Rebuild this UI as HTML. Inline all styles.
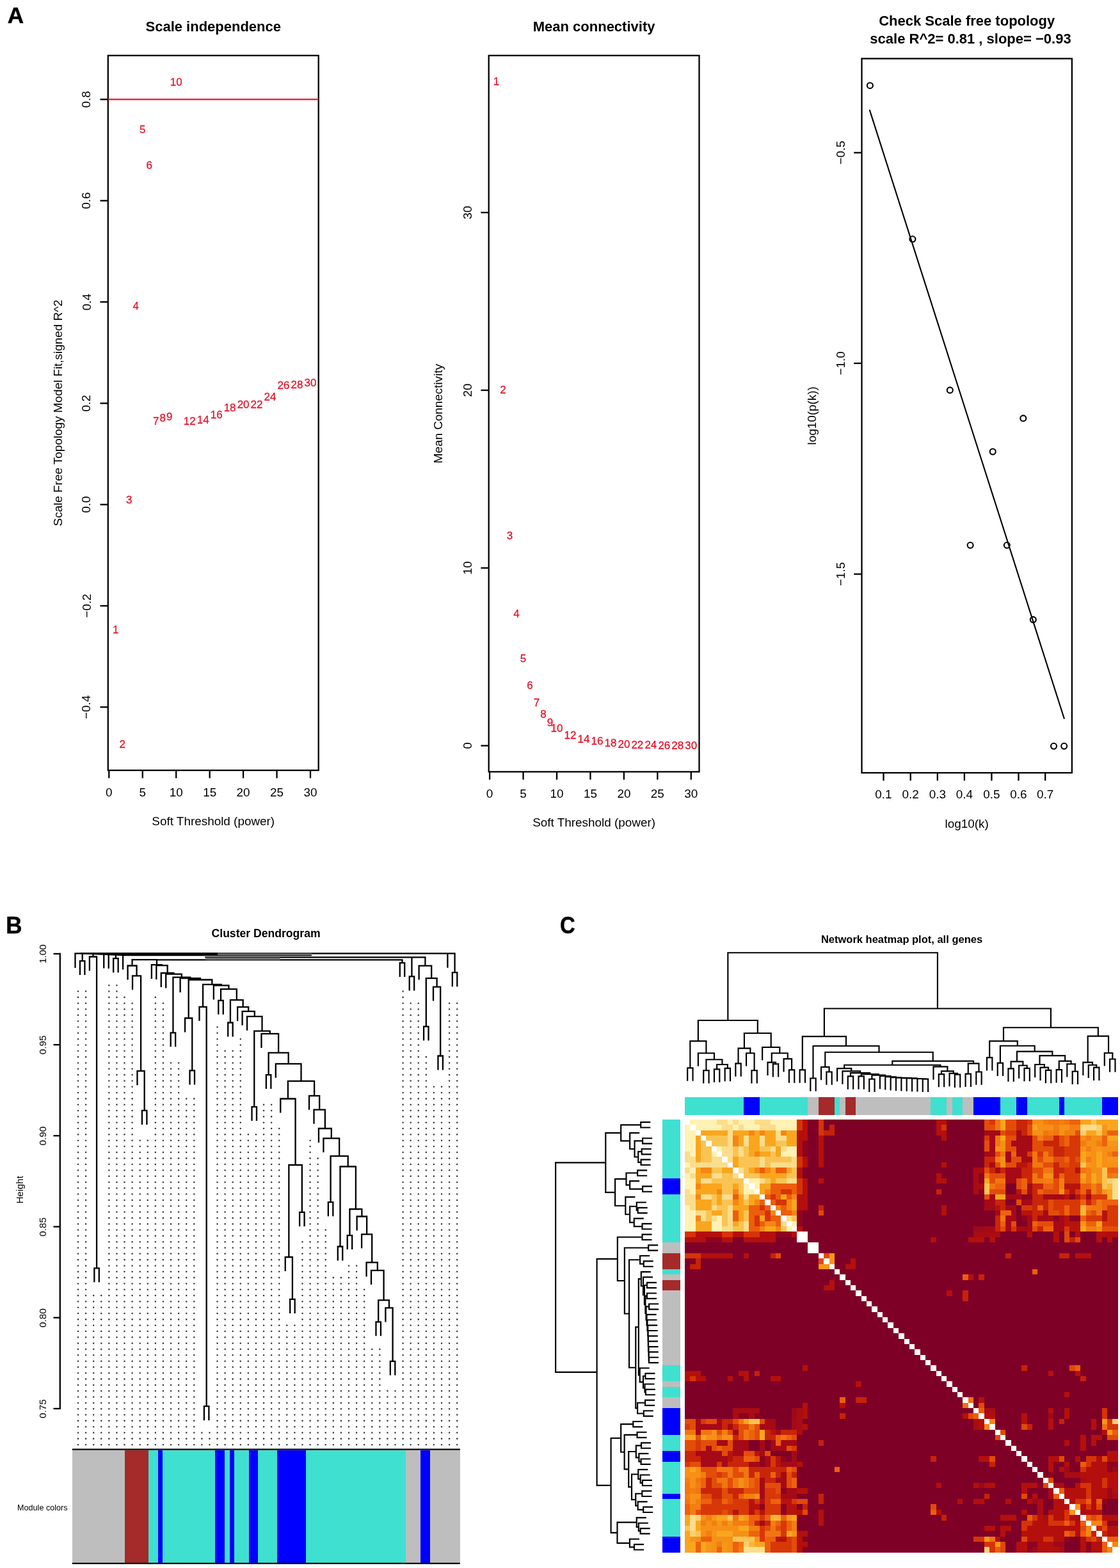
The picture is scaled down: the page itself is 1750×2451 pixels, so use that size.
<!DOCTYPE html>
<html lang="en"><head><meta charset="utf-8"><title>WGCNA figure</title>
<style>
html,body{margin:0;padding:0;background:#fff;}
body{width:1750px;height:2451px;overflow:hidden;}
svg{display:block;font-family:'Liberation Sans', sans-serif;}
</style></head><body>
<svg width="1750" height="2451" viewBox="0 0 1750 2451">
<rect x="0" y="0" width="1750" height="2451" fill="#fff"/>
<g id="panelA">
<text id="lblA" x="11.70" y="36.20" font-size="35.2" font-weight="bold" stroke="#000" stroke-width="0.5">A</text>
<rect x="168.80" y="86.80" width="328.90" height="1117.30" fill="none" stroke="#000" stroke-width="2.3"/>
<text x="333.25" y="49.20" font-size="22" text-anchor="middle" font-weight="bold" fill="#000">Scale independence</text>
<line x1="170.30" y1="1204.10" x2="170.30" y2="1216.40" stroke="#000" stroke-width="2.3" stroke-linecap="butt"/>
<text x="170.30" y="1244.60" font-size="18.9" text-anchor="middle" font-weight="normal" fill="#000">0</text>
<line x1="222.75" y1="1204.10" x2="222.75" y2="1216.40" stroke="#000" stroke-width="2.3" stroke-linecap="butt"/>
<text x="222.75" y="1244.60" font-size="18.9" text-anchor="middle" font-weight="normal" fill="#000">5</text>
<line x1="275.20" y1="1204.10" x2="275.20" y2="1216.40" stroke="#000" stroke-width="2.3" stroke-linecap="butt"/>
<text x="275.20" y="1244.60" font-size="18.9" text-anchor="middle" font-weight="normal" fill="#000">10</text>
<line x1="327.65" y1="1204.10" x2="327.65" y2="1216.40" stroke="#000" stroke-width="2.3" stroke-linecap="butt"/>
<text x="327.65" y="1244.60" font-size="18.9" text-anchor="middle" font-weight="normal" fill="#000">15</text>
<line x1="380.10" y1="1204.10" x2="380.10" y2="1216.40" stroke="#000" stroke-width="2.3" stroke-linecap="butt"/>
<text x="380.10" y="1244.60" font-size="18.9" text-anchor="middle" font-weight="normal" fill="#000">20</text>
<line x1="432.55" y1="1204.10" x2="432.55" y2="1216.40" stroke="#000" stroke-width="2.3" stroke-linecap="butt"/>
<text x="432.55" y="1244.60" font-size="18.9" text-anchor="middle" font-weight="normal" fill="#000">25</text>
<line x1="485.00" y1="1204.10" x2="485.00" y2="1216.40" stroke="#000" stroke-width="2.3" stroke-linecap="butt"/>
<text x="485.00" y="1244.60" font-size="18.9" text-anchor="middle" font-weight="normal" fill="#000">30</text>
<text x="333.25" y="1290.30" font-size="18.9" text-anchor="middle" font-weight="normal" fill="#000">Soft Threshold (power)</text>
<line x1="156.50" y1="155.40" x2="168.80" y2="155.40" stroke="#000" stroke-width="2.3" stroke-linecap="butt"/>
<text x="141.50" y="155.40" font-size="18.9" text-anchor="middle" font-weight="normal" fill="#000" transform="rotate(-90 141.50 155.40)">0.8</text>
<line x1="156.50" y1="313.70" x2="168.80" y2="313.70" stroke="#000" stroke-width="2.3" stroke-linecap="butt"/>
<text x="141.50" y="313.70" font-size="18.9" text-anchor="middle" font-weight="normal" fill="#000" transform="rotate(-90 141.50 313.70)">0.6</text>
<line x1="156.50" y1="472.00" x2="168.80" y2="472.00" stroke="#000" stroke-width="2.3" stroke-linecap="butt"/>
<text x="141.50" y="472.00" font-size="18.9" text-anchor="middle" font-weight="normal" fill="#000" transform="rotate(-90 141.50 472.00)">0.4</text>
<line x1="156.50" y1="630.40" x2="168.80" y2="630.40" stroke="#000" stroke-width="2.3" stroke-linecap="butt"/>
<text x="141.50" y="630.40" font-size="18.9" text-anchor="middle" font-weight="normal" fill="#000" transform="rotate(-90 141.50 630.40)">0.2</text>
<line x1="156.50" y1="788.70" x2="168.80" y2="788.70" stroke="#000" stroke-width="2.3" stroke-linecap="butt"/>
<text x="141.50" y="788.70" font-size="18.9" text-anchor="middle" font-weight="normal" fill="#000" transform="rotate(-90 141.50 788.70)">0.0</text>
<line x1="156.50" y1="947.00" x2="168.80" y2="947.00" stroke="#000" stroke-width="2.3" stroke-linecap="butt"/>
<text x="141.50" y="947.00" font-size="18.9" text-anchor="middle" font-weight="normal" fill="#000" transform="rotate(-90 141.50 947.00)">−0.2</text>
<line x1="156.50" y1="1105.30" x2="168.80" y2="1105.30" stroke="#000" stroke-width="2.3" stroke-linecap="butt"/>
<text x="141.50" y="1105.30" font-size="18.9" text-anchor="middle" font-weight="normal" fill="#000" transform="rotate(-90 141.50 1105.30)">−0.4</text>
<text x="96.80" y="645.45" font-size="18.9" text-anchor="middle" font-weight="normal" fill="#000" transform="rotate(-90 96.80 645.45)">Scale Free Topology Model Fit,signed R^2</text>
<line x1="168.80" y1="155.40" x2="497.70" y2="155.40" stroke="#e5152b" stroke-width="2.3" stroke-linecap="butt"/>
<text x="180.79" y="989.91" font-size="17" text-anchor="middle" font-weight="normal" fill="#e5152b" stroke="#e5152b" stroke-width="0.3">1</text>
<text x="191.28" y="1169.22" font-size="17" text-anchor="middle" font-weight="normal" fill="#e5152b" stroke="#e5152b" stroke-width="0.3">2</text>
<text x="201.77" y="787.28" font-size="17" text-anchor="middle" font-weight="normal" fill="#e5152b" stroke="#e5152b" stroke-width="0.3">3</text>
<text x="212.26" y="484.49" font-size="17" text-anchor="middle" font-weight="normal" fill="#e5152b" stroke="#e5152b" stroke-width="0.3">4</text>
<text x="222.75" y="207.62" font-size="17" text-anchor="middle" font-weight="normal" fill="#e5152b" stroke="#e5152b" stroke-width="0.3">5</text>
<text x="233.24" y="264.15" font-size="17" text-anchor="middle" font-weight="normal" fill="#e5152b" stroke="#e5152b" stroke-width="0.3">6</text>
<text x="243.73" y="663.60" font-size="17" text-anchor="middle" font-weight="normal" fill="#e5152b" stroke="#e5152b" stroke-width="0.3">7</text>
<text x="254.22" y="658.80" font-size="17" text-anchor="middle" font-weight="normal" fill="#e5152b" stroke="#e5152b" stroke-width="0.3">8</text>
<text x="264.71" y="656.50" font-size="17" text-anchor="middle" font-weight="normal" fill="#e5152b" stroke="#e5152b" stroke-width="0.3">9</text>
<text x="275.20" y="134.07" font-size="17" text-anchor="middle" font-weight="normal" fill="#e5152b" stroke="#e5152b" stroke-width="0.3">10</text>
<text x="296.18" y="664.00" font-size="17" text-anchor="middle" font-weight="normal" fill="#e5152b" stroke="#e5152b" stroke-width="0.3">12</text>
<text x="317.16" y="661.60" font-size="17" text-anchor="middle" font-weight="normal" fill="#e5152b" stroke="#e5152b" stroke-width="0.3">14</text>
<text x="338.14" y="654.20" font-size="17" text-anchor="middle" font-weight="normal" fill="#e5152b" stroke="#e5152b" stroke-width="0.3">16</text>
<text x="359.12" y="643.49" font-size="17" text-anchor="middle" font-weight="normal" fill="#e5152b" stroke="#e5152b" stroke-width="0.3">18</text>
<text x="380.10" y="637.59" font-size="17" text-anchor="middle" font-weight="normal" fill="#e5152b" stroke="#e5152b" stroke-width="0.3">20</text>
<text x="401.08" y="637.89" font-size="17" text-anchor="middle" font-weight="normal" fill="#e5152b" stroke="#e5152b" stroke-width="0.3">22</text>
<text x="422.06" y="626.08" font-size="17" text-anchor="middle" font-weight="normal" fill="#e5152b" stroke="#e5152b" stroke-width="0.3">24</text>
<text x="443.04" y="607.97" font-size="17" text-anchor="middle" font-weight="normal" fill="#e5152b" stroke="#e5152b" stroke-width="0.3">26</text>
<text x="464.02" y="606.87" font-size="17" text-anchor="middle" font-weight="normal" fill="#e5152b" stroke="#e5152b" stroke-width="0.3">28</text>
<text x="485.00" y="603.97" font-size="17" text-anchor="middle" font-weight="normal" fill="#e5152b" stroke="#e5152b" stroke-width="0.3">30</text>
<rect x="763.70" y="86.80" width="328.80" height="1119.60" fill="none" stroke="#000" stroke-width="2.3"/>
<text x="928.10" y="49.20" font-size="22" text-anchor="middle" font-weight="bold" fill="#000">Mean connectivity</text>
<line x1="765.10" y1="1206.40" x2="765.10" y2="1218.70" stroke="#000" stroke-width="2.3" stroke-linecap="butt"/>
<text x="765.10" y="1247.40" font-size="18.9" text-anchor="middle" font-weight="normal" fill="#000">0</text>
<line x1="817.55" y1="1206.40" x2="817.55" y2="1218.70" stroke="#000" stroke-width="2.3" stroke-linecap="butt"/>
<text x="817.55" y="1247.40" font-size="18.9" text-anchor="middle" font-weight="normal" fill="#000">5</text>
<line x1="870.00" y1="1206.40" x2="870.00" y2="1218.70" stroke="#000" stroke-width="2.3" stroke-linecap="butt"/>
<text x="870.00" y="1247.40" font-size="18.9" text-anchor="middle" font-weight="normal" fill="#000">10</text>
<line x1="922.45" y1="1206.40" x2="922.45" y2="1218.70" stroke="#000" stroke-width="2.3" stroke-linecap="butt"/>
<text x="922.45" y="1247.40" font-size="18.9" text-anchor="middle" font-weight="normal" fill="#000">15</text>
<line x1="974.90" y1="1206.40" x2="974.90" y2="1218.70" stroke="#000" stroke-width="2.3" stroke-linecap="butt"/>
<text x="974.90" y="1247.40" font-size="18.9" text-anchor="middle" font-weight="normal" fill="#000">20</text>
<line x1="1027.35" y1="1206.40" x2="1027.35" y2="1218.70" stroke="#000" stroke-width="2.3" stroke-linecap="butt"/>
<text x="1027.35" y="1247.40" font-size="18.9" text-anchor="middle" font-weight="normal" fill="#000">25</text>
<line x1="1079.80" y1="1206.40" x2="1079.80" y2="1218.70" stroke="#000" stroke-width="2.3" stroke-linecap="butt"/>
<text x="1079.80" y="1247.40" font-size="18.9" text-anchor="middle" font-weight="normal" fill="#000">30</text>
<text x="928.10" y="1292.00" font-size="18.9" text-anchor="middle" font-weight="normal" fill="#000">Soft Threshold (power)</text>
<line x1="751.40" y1="332.20" x2="763.70" y2="332.20" stroke="#000" stroke-width="2.3" stroke-linecap="butt"/>
<text x="736.70" y="332.20" font-size="18.9" text-anchor="middle" font-weight="normal" fill="#000" transform="rotate(-90 736.70 332.20)">30</text>
<line x1="751.40" y1="610.00" x2="763.70" y2="610.00" stroke="#000" stroke-width="2.3" stroke-linecap="butt"/>
<text x="736.70" y="610.00" font-size="18.9" text-anchor="middle" font-weight="normal" fill="#000" transform="rotate(-90 736.70 610.00)">20</text>
<line x1="751.40" y1="887.80" x2="763.70" y2="887.80" stroke="#000" stroke-width="2.3" stroke-linecap="butt"/>
<text x="736.70" y="887.80" font-size="18.9" text-anchor="middle" font-weight="normal" fill="#000" transform="rotate(-90 736.70 887.80)">10</text>
<line x1="751.40" y1="1165.60" x2="763.70" y2="1165.60" stroke="#000" stroke-width="2.3" stroke-linecap="butt"/>
<text x="736.70" y="1165.60" font-size="18.9" text-anchor="middle" font-weight="normal" fill="#000" transform="rotate(-90 736.70 1165.60)">0</text>
<text x="691.30" y="646.60" font-size="18.9" text-anchor="middle" font-weight="normal" fill="#000" transform="rotate(-90 691.30 646.60)">Mean Connectivity</text>
<text x="775.59" y="133.44" font-size="17" text-anchor="middle" font-weight="normal" fill="#e5152b" stroke="#e5152b" stroke-width="0.3">1</text>
<text x="786.08" y="614.55" font-size="17" text-anchor="middle" font-weight="normal" fill="#e5152b" stroke="#e5152b" stroke-width="0.3">2</text>
<text x="796.57" y="843.24" font-size="17" text-anchor="middle" font-weight="normal" fill="#e5152b" stroke="#e5152b" stroke-width="0.3">3</text>
<text x="807.06" y="965.35" font-size="17" text-anchor="middle" font-weight="normal" fill="#e5152b" stroke="#e5152b" stroke-width="0.3">4</text>
<text x="817.55" y="1034.57" font-size="17" text-anchor="middle" font-weight="normal" fill="#e5152b" stroke="#e5152b" stroke-width="0.3">5</text>
<text x="828.04" y="1077.14" font-size="17" text-anchor="middle" font-weight="normal" fill="#e5152b" stroke="#e5152b" stroke-width="0.3">6</text>
<text x="838.53" y="1104.48" font-size="17" text-anchor="middle" font-weight="normal" fill="#e5152b" stroke="#e5152b" stroke-width="0.3">7</text>
<text x="849.02" y="1122.31" font-size="17" text-anchor="middle" font-weight="normal" fill="#e5152b" stroke="#e5152b" stroke-width="0.3">8</text>
<text x="859.51" y="1134.83" font-size="17" text-anchor="middle" font-weight="normal" fill="#e5152b" stroke="#e5152b" stroke-width="0.3">9</text>
<text x="870.00" y="1143.75" font-size="17" text-anchor="middle" font-weight="normal" fill="#e5152b" stroke="#e5152b" stroke-width="0.3">10</text>
<text x="890.98" y="1154.87" font-size="17" text-anchor="middle" font-weight="normal" fill="#e5152b" stroke="#e5152b" stroke-width="0.3">12</text>
<text x="911.96" y="1161.48" font-size="17" text-anchor="middle" font-weight="normal" fill="#e5152b" stroke="#e5152b" stroke-width="0.3">14</text>
<text x="932.94" y="1164.48" font-size="17" text-anchor="middle" font-weight="normal" fill="#e5152b" stroke="#e5152b" stroke-width="0.3">16</text>
<text x="953.92" y="1167.39" font-size="17" text-anchor="middle" font-weight="normal" fill="#e5152b" stroke="#e5152b" stroke-width="0.3">18</text>
<text x="974.90" y="1169.29" font-size="17" text-anchor="middle" font-weight="normal" fill="#e5152b" stroke="#e5152b" stroke-width="0.3">20</text>
<text x="995.88" y="1170.39" font-size="17" text-anchor="middle" font-weight="normal" fill="#e5152b" stroke="#e5152b" stroke-width="0.3">22</text>
<text x="1016.86" y="1170.39" font-size="17" text-anchor="middle" font-weight="normal" fill="#e5152b" stroke="#e5152b" stroke-width="0.3">24</text>
<text x="1037.84" y="1170.60" font-size="17" text-anchor="middle" font-weight="normal" fill="#e5152b" stroke="#e5152b" stroke-width="0.3">26</text>
<text x="1058.82" y="1170.80" font-size="17" text-anchor="middle" font-weight="normal" fill="#e5152b" stroke="#e5152b" stroke-width="0.3">28</text>
<text x="1079.80" y="1170.90" font-size="17" text-anchor="middle" font-weight="normal" fill="#e5152b" stroke="#e5152b" stroke-width="0.3">30</text>
<rect x="1346.50" y="91.60" width="328.40" height="1116.40" fill="none" stroke="#000" stroke-width="2.3"/>
<text x="1510.70" y="39.90" font-size="22" text-anchor="middle" font-weight="bold" fill="#000">Check Scale free topology</text>
<text x="1516.50" y="67.60" font-size="22" text-anchor="middle" font-weight="bold" fill="#000">scale R^2= 0.81 , slope= −0.93</text>
<line x1="1380.50" y1="1208.00" x2="1380.50" y2="1220.30" stroke="#000" stroke-width="2.3" stroke-linecap="butt"/>
<text x="1380.50" y="1248.30" font-size="18.9" text-anchor="middle" font-weight="normal" fill="#000">0.1</text>
<line x1="1422.70" y1="1208.00" x2="1422.70" y2="1220.30" stroke="#000" stroke-width="2.3" stroke-linecap="butt"/>
<text x="1422.70" y="1248.30" font-size="18.9" text-anchor="middle" font-weight="normal" fill="#000">0.2</text>
<line x1="1464.80" y1="1208.00" x2="1464.80" y2="1220.30" stroke="#000" stroke-width="2.3" stroke-linecap="butt"/>
<text x="1464.80" y="1248.30" font-size="18.9" text-anchor="middle" font-weight="normal" fill="#000">0.3</text>
<line x1="1506.90" y1="1208.00" x2="1506.90" y2="1220.30" stroke="#000" stroke-width="2.3" stroke-linecap="butt"/>
<text x="1506.90" y="1248.30" font-size="18.9" text-anchor="middle" font-weight="normal" fill="#000">0.4</text>
<line x1="1549.40" y1="1208.00" x2="1549.40" y2="1220.30" stroke="#000" stroke-width="2.3" stroke-linecap="butt"/>
<text x="1549.40" y="1248.30" font-size="18.9" text-anchor="middle" font-weight="normal" fill="#000">0.5</text>
<line x1="1591.50" y1="1208.00" x2="1591.50" y2="1220.30" stroke="#000" stroke-width="2.3" stroke-linecap="butt"/>
<text x="1591.50" y="1248.30" font-size="18.9" text-anchor="middle" font-weight="normal" fill="#000">0.6</text>
<line x1="1633.20" y1="1208.00" x2="1633.20" y2="1220.30" stroke="#000" stroke-width="2.3" stroke-linecap="butt"/>
<text x="1633.20" y="1248.30" font-size="18.9" text-anchor="middle" font-weight="normal" fill="#000">0.7</text>
<text x="1510.70" y="1293.50" font-size="18.9" text-anchor="middle" font-weight="normal" fill="#000">log10(k)</text>
<line x1="1334.20" y1="238.70" x2="1346.50" y2="238.70" stroke="#000" stroke-width="2.3" stroke-linecap="butt"/>
<text x="1320.00" y="238.70" font-size="18.9" text-anchor="middle" font-weight="normal" fill="#000" transform="rotate(-90 1320.00 238.70)">−0.5</text>
<line x1="1334.20" y1="567.90" x2="1346.50" y2="567.90" stroke="#000" stroke-width="2.3" stroke-linecap="butt"/>
<text x="1320.00" y="567.90" font-size="18.9" text-anchor="middle" font-weight="normal" fill="#000" transform="rotate(-90 1320.00 567.90)">−1.0</text>
<line x1="1334.20" y1="897.40" x2="1346.50" y2="897.40" stroke="#000" stroke-width="2.3" stroke-linecap="butt"/>
<text x="1320.00" y="897.40" font-size="18.9" text-anchor="middle" font-weight="normal" fill="#000" transform="rotate(-90 1320.00 897.40)">−1.5</text>
<text x="1274.90" y="649.80" font-size="18.9" text-anchor="middle" font-weight="normal" fill="#000" transform="rotate(-90 1274.90 649.80)">log10(p(k))</text>
<line x1="1358.70" y1="171.60" x2="1663.00" y2="1123.80" stroke="#000" stroke-width="2.1" stroke-linecap="butt"/>
<circle cx="1359.4" cy="133.7" r="4.5" fill="none" stroke="#000" stroke-width="2.1"/>
<circle cx="1425.9" cy="373.8" r="4.5" fill="none" stroke="#000" stroke-width="2.1"/>
<circle cx="1484.3" cy="609.9" r="4.5" fill="none" stroke="#000" stroke-width="2.1"/>
<circle cx="1598.8" cy="653.9" r="4.5" fill="none" stroke="#000" stroke-width="2.1"/>
<circle cx="1551.2" cy="706.0" r="4.5" fill="none" stroke="#000" stroke-width="2.1"/>
<circle cx="1516.1" cy="852.3" r="4.5" fill="none" stroke="#000" stroke-width="2.1"/>
<circle cx="1573.3" cy="852.3" r="4.5" fill="none" stroke="#000" stroke-width="2.1"/>
<circle cx="1614.3" cy="968.6" r="4.5" fill="none" stroke="#000" stroke-width="2.1"/>
<circle cx="1646.5" cy="1166.3" r="4.5" fill="none" stroke="#000" stroke-width="2.1"/>
<circle cx="1662.7" cy="1166.3" r="4.5" fill="none" stroke="#000" stroke-width="2.1"/>
</g>
<g id="panelB">
<text id="lblB" transform="translate(9.30 1459.20) scale(0.95 1)" font-size="36.8" font-weight="bold" stroke="#000" stroke-width="0.5">B</text>
<text x="415.60" y="1465.10" font-size="17.6" text-anchor="middle" font-weight="bold" fill="#000">Cluster Dendrogram</text>
<line x1="93.80" y1="1489.75" x2="93.80" y2="2203.05" stroke="#000" stroke-width="2.3" stroke-linecap="butt"/>
<line x1="83.50" y1="1490.90" x2="93.80" y2="1490.90" stroke="#000" stroke-width="2.3" stroke-linecap="butt"/>
<text x="72.40" y="1491.20" font-size="15.3" text-anchor="middle" font-weight="normal" fill="#000" transform="rotate(-90 72.40 1491.20)">1.00</text>
<line x1="83.50" y1="1633.10" x2="93.80" y2="1633.10" stroke="#000" stroke-width="2.3" stroke-linecap="butt"/>
<text x="72.40" y="1633.40" font-size="15.3" text-anchor="middle" font-weight="normal" fill="#000" transform="rotate(-90 72.40 1633.40)">0.95</text>
<line x1="83.50" y1="1775.30" x2="93.80" y2="1775.30" stroke="#000" stroke-width="2.3" stroke-linecap="butt"/>
<text x="72.40" y="1775.60" font-size="15.3" text-anchor="middle" font-weight="normal" fill="#000" transform="rotate(-90 72.40 1775.60)">0.90</text>
<line x1="83.50" y1="1917.50" x2="93.80" y2="1917.50" stroke="#000" stroke-width="2.3" stroke-linecap="butt"/>
<text x="72.40" y="1917.80" font-size="15.3" text-anchor="middle" font-weight="normal" fill="#000" transform="rotate(-90 72.40 1917.80)">0.85</text>
<line x1="83.50" y1="2059.70" x2="93.80" y2="2059.70" stroke="#000" stroke-width="2.3" stroke-linecap="butt"/>
<text x="72.40" y="2060.00" font-size="15.3" text-anchor="middle" font-weight="normal" fill="#000" transform="rotate(-90 72.40 2060.00)">0.80</text>
<line x1="83.50" y1="2201.90" x2="93.80" y2="2201.90" stroke="#000" stroke-width="2.3" stroke-linecap="butt"/>
<text x="72.40" y="2202.20" font-size="15.3" text-anchor="middle" font-weight="normal" fill="#000" transform="rotate(-90 72.40 2202.20)">0.75</text>
<text x="35.90" y="1859.70" font-size="14.9" text-anchor="middle" font-weight="normal" fill="#000" transform="rotate(-90 35.90 1859.70)">Height</text>
<text x="27.10" y="2360.80" font-size="12.6" text-anchor="start" font-weight="normal" fill="#000">Module colors</text>
<g shape-rendering="crispEdges">
<rect x="112.80" y="2266.60" width="82.27" height="176.60" fill="#bebebe" stroke="none" stroke-width="0"/>
<rect x="194.77" y="2266.60" width="37.56" height="176.60" fill="#a52a2a" stroke="none" stroke-width="0"/>
<rect x="232.03" y="2266.60" width="15.20" height="176.60" fill="#40e0d0" stroke="none" stroke-width="0"/>
<rect x="246.94" y="2266.60" width="7.75" height="176.60" fill="#0000ff" stroke="none" stroke-width="0"/>
<rect x="254.39" y="2266.60" width="82.27" height="176.60" fill="#40e0d0" stroke="none" stroke-width="0"/>
<rect x="336.36" y="2266.60" width="15.20" height="176.60" fill="#0000ff" stroke="none" stroke-width="0"/>
<rect x="351.26" y="2266.60" width="7.75" height="176.60" fill="#40e0d0" stroke="none" stroke-width="0"/>
<rect x="358.72" y="2266.60" width="7.75" height="176.60" fill="#0000ff" stroke="none" stroke-width="0"/>
<rect x="366.17" y="2266.60" width="22.66" height="176.60" fill="#40e0d0" stroke="none" stroke-width="0"/>
<rect x="388.52" y="2266.60" width="15.20" height="176.60" fill="#0000ff" stroke="none" stroke-width="0"/>
<rect x="403.43" y="2266.60" width="30.11" height="176.60" fill="#40e0d0" stroke="none" stroke-width="0"/>
<rect x="433.24" y="2266.60" width="45.01" height="176.60" fill="#0000ff" stroke="none" stroke-width="0"/>
<rect x="477.95" y="2266.60" width="156.79" height="176.60" fill="#40e0d0" stroke="none" stroke-width="0"/>
<rect x="634.44" y="2266.60" width="22.66" height="176.60" fill="#bebebe" stroke="none" stroke-width="0"/>
<rect x="656.80" y="2266.60" width="15.20" height="176.60" fill="#0000ff" stroke="none" stroke-width="0"/>
<rect x="671.70" y="2266.60" width="47.20" height="176.60" fill="#bebebe" stroke="none" stroke-width="0"/>
</g>
<line x1="112.80" y1="2265.60" x2="718.90" y2="2265.60" stroke="#000" stroke-width="2.3" stroke-linecap="butt"/>
<line x1="112.80" y1="2443.80" x2="718.90" y2="2443.80" stroke="#000" stroke-width="2.3" stroke-linecap="butt"/>
<path d="M117.50 1489.15V1513.00M124.96 1500.95V1524.10M132.42 1500.95V1524.10M123.81 1502.10H133.57M128.69 1489.35V1502.10M139.88 1494.35V1517.50M147.34 1981.15V2004.30M154.80 1981.15V2004.30M146.19 1982.30H155.95M151.07 1494.35V1982.30M138.73 1495.50H152.22M145.47 1489.55V1495.50M162.26 1489.95V1513.50M169.72 1490.25V1514.00M177.18 1497.05V1520.20M184.64 1497.05V1520.20M176.03 1498.20H185.79M180.91 1490.65V1498.20M192.10 1491.35V1515.50M199.56 1508.35V1531.50M207.02 1524.15V1547.30M214.48 1673.05V1696.20M221.94 1734.75V1757.90M229.40 1734.75V1757.90M220.79 1735.90H230.55M225.67 1673.05V1735.90M213.33 1674.20H226.82M220.08 1524.15V1674.20M205.87 1525.30H221.23M213.55 1508.35V1525.30M198.41 1509.50H214.70M206.55 1499.05V1509.50M236.86 1506.95V1530.10M244.32 1507.95V1531.10M251.78 1519.85V1543.00M259.24 1521.45V1544.60M266.70 1613.15V1636.30M274.16 1613.15V1636.30M265.55 1614.30H275.31M270.43 1526.55V1614.30M281.62 1528.05V1551.20M289.08 1590.35V1613.50M296.54 1672.25V1695.40M304.00 1672.25V1695.40M295.39 1673.40H305.15M300.27 1590.35V1673.40M287.93 1591.50H301.42M294.68 1530.35V1591.50M311.46 1572.65V1595.80M318.92 2197.05V2220.20M326.38 2197.05V2220.20M317.77 2198.20H327.53M322.65 1572.65V2198.20M310.31 1573.80H323.80M317.06 1537.75V1573.80M333.84 1539.25V1562.40M341.30 1562.65V1585.80M348.76 1562.65V1585.80M340.15 1563.80H349.91M345.03 1544.95V1563.80M356.22 1597.35V1620.50M363.68 1597.35V1620.50M355.07 1598.50H364.83M359.95 1561.95V1598.50M371.14 1572.95V1596.10M378.60 1579.65V1602.80M386.06 1587.65V1610.80M393.52 1728.95V1752.10M400.98 1728.95V1752.10M392.37 1730.10H402.13M397.25 1610.45V1730.10M408.44 1614.75V1637.90M415.90 1678.95V1702.10M423.36 1678.95V1702.10M414.75 1680.10H424.51M419.63 1644.55V1680.10M430.82 1661.65V1684.80M438.28 1716.35V1739.50M445.74 1963.85V1987.00M453.20 2029.75V2052.90M460.66 2029.75V2052.90M452.05 2030.90H461.81M456.93 1963.85V2030.90M444.59 1965.00H458.08M451.34 1819.85V1965.00M468.12 1893.75V1916.90M475.58 1893.75V1916.90M466.97 1894.90H476.73M471.85 1819.85V1894.90M450.19 1821.00H473.00M461.59 1716.35V1821.00M437.13 1717.50H462.74M449.94 1688.65V1717.50M483.04 1711.65V1734.80M490.50 1733.55V1756.70M497.96 1762.85V1786.00M505.42 1778.15V1801.30M512.88 1878.05V1901.20M520.34 1878.05V1901.20M511.73 1879.20H521.49M516.61 1806.05V1879.20M527.80 1947.35V1970.50M535.26 1947.35V1970.50M526.65 1948.50H536.41M531.53 1822.35V1948.50M542.72 1929.95V1953.10M550.18 1929.95V1953.10M541.57 1931.10H551.33M546.45 1888.85V1931.10M557.64 1900.35V1923.50M565.10 1928.15V1951.30M572.56 1972.25V1995.40M580.02 1984.75V2007.90M587.48 2065.15V2088.30M594.94 2065.15V2088.30M586.33 2066.30H596.09M591.21 2031.25V2066.30M602.40 2043.25V2066.40M609.86 2126.65V2149.80M617.32 2126.65V2149.80M608.71 2127.80H618.47M613.59 2043.25V2127.80M601.25 2044.40H614.74M607.99 2031.25V2044.40M590.06 2032.40H609.14M599.60 1984.75V2032.40M578.87 1985.90H600.75M589.81 1972.25V1985.90M571.41 1973.40H590.96M581.19 1928.15V1973.40M563.95 1929.30H582.34M573.14 1900.35V1929.30M556.49 1901.50H574.29M565.39 1888.85V1901.50M545.30 1890.00H566.54M555.92 1822.35V1890.00M530.38 1823.50H557.07M543.73 1806.05V1823.50M515.46 1807.20H544.88M530.17 1778.15V1807.20M504.27 1779.30H531.32M517.79 1762.85V1779.30M496.81 1764.00H518.94M507.88 1733.55V1764.00M489.35 1734.70H509.03M499.19 1711.65V1734.70M481.89 1712.80H500.34M491.11 1688.65V1712.80M448.79 1689.80H492.26M470.53 1661.65V1689.80M429.67 1662.80H471.68M450.67 1644.55V1662.80M418.48 1645.70H451.82M435.15 1614.75V1645.70M407.29 1615.90H436.30M421.80 1610.45V1615.90M396.10 1611.60H422.95M409.52 1587.65V1611.60M384.91 1588.80H410.67M397.79 1579.65V1588.80M377.45 1580.80H398.94M388.20 1572.95V1580.80M369.99 1574.10H389.35M379.67 1561.95V1574.10M358.80 1563.10H380.82M369.81 1544.95V1563.10M343.88 1546.10H370.96M357.42 1539.25V1546.10M332.69 1540.40H358.57M345.63 1537.75V1540.40M315.91 1538.90H346.78M331.34 1530.35V1538.90M293.53 1531.50H332.49M313.01 1528.05V1531.50M280.47 1529.20H314.16M297.31 1526.55V1529.20M269.28 1527.70H298.46M283.87 1521.45V1527.70M258.09 1522.60H285.02M271.56 1519.85V1522.60M250.63 1521.00H272.71M261.67 1507.95V1521.00M243.17 1509.10H262.82M252.99 1506.95V1509.10M235.71 1508.10H254.14M244.93 1499.05V1508.10M624.78 1503.95V1527.10M632.24 1503.95V1527.10M623.63 1505.10H633.39M628.51 1499.45V1505.10M639.70 1525.25V1548.40M647.16 1525.25V1548.40M638.55 1526.40H648.31M643.43 1495.35V1526.40M654.62 1508.45V1531.60M662.08 1603.45V1626.60M669.54 1603.45V1626.60M660.93 1604.60H670.69M665.81 1528.05V1604.60M677.00 1541.45V1564.60M684.46 1649.35V1672.50M691.92 1649.35V1672.50M683.31 1650.50H693.07M688.19 1541.45V1650.50M675.85 1542.60H689.34M682.60 1528.05V1542.60M664.66 1529.20H683.75M674.20 1508.45V1529.20M653.47 1509.60H675.35M664.41 1495.35V1509.60M699.38 1489.15V1512.80M706.84 1519.05V1542.20M714.30 1519.05V1542.20M705.69 1520.20H715.45M710.57 1489.15V1520.20M116.35 1490.30H711.72M205.40 1500.20H246.08M243.78 1500.30H629.66M320.35 1496.40H665.56" stroke="#000" stroke-width="2.3" fill="none" stroke-linejoin="miter" stroke-linecap="butt"/>
<path d="M125 1489.10 L340 1489.10 L340 1494.20 L195 1494.20 L128 1491.50 Z" fill="#000"/>
<rect x="340.00" y="1490.30" width="147.00" height="3.30" fill="#6e6e6e" stroke="none" stroke-width="0"/>
<line x1="340.00" y1="1493.60" x2="487.00" y2="1493.60" stroke="#000" stroke-width="1.4" stroke-linecap="butt"/>
<rect x="321.50" y="1496.50" width="116.50" height="4.00" fill="#6e6e6e" stroke="none" stroke-width="0"/>
<path d="M122.00 2258.20V1549.08M134.09 2258.20V1549.08M146.17 2258.20V2024.60M158.26 2258.20V2024.60M170.34 2258.20V1539.75M182.43 2258.20V1539.75M194.51 2258.20V1558.40M206.60 2258.20V1567.72M218.69 2258.20V1782.18M230.77 2258.20V1782.18M242.86 2258.20V1558.40M254.94 2258.20V1567.72M267.03 2258.20V1660.96M279.11 2258.20V1660.96M291.20 2258.20V1716.91M303.29 2258.20V1716.91M315.37 2258.20V2239.05M327.46 2258.20V2239.05M339.54 2258.20V1605.02M351.63 2258.20V1642.32M363.71 2258.20V1642.32M375.80 2258.20V1623.67M387.89 2258.20V1772.85M399.97 2258.20V1772.85M412.06 2258.20V1726.23M424.14 2258.20V1726.23M436.23 2258.20V1763.53M448.31 2258.20V2071.22M460.40 2258.20V2071.22M472.49 2258.20V1940.68M484.57 2258.20V1782.18M496.66 2258.20V1810.15M508.74 2258.20V1922.04M520.83 2258.20V1996.63M532.91 2258.20V1996.63M545.00 2258.20V1977.98M557.09 2258.20V1977.98M569.17 2258.20V2015.28M581.26 2258.20V2108.52M593.34 2258.20V2108.52M605.43 2258.20V2173.78M617.51 2258.20V2173.78M629.60 2258.20V1549.08M641.69 2258.20V1567.72M653.77 2258.20V1567.72M665.86 2258.20V1651.64M677.94 2258.20V1698.26M690.03 2258.20V1698.26M702.11 2258.20V1567.72M714.20 2258.20V1567.72" stroke="#383838" stroke-width="2.55" fill="none" stroke-linecap="round" stroke-dasharray="0.01 9.314"/>
</g>
<g id="panelC">
<text id="lblC" transform="translate(874.90 1459.00) scale(0.89 1)" font-size="36.8" font-weight="bold" stroke="#000" stroke-width="0.5">C</text>
<text x="1409.00" y="1474.30" font-size="16.5" text-anchor="middle" font-weight="bold" fill="#000">Network heatmap plot, all genes</text>
<path d="M1074.18 1668.28V1689.67M1082.53 1668.28V1689.67M1073.10 1669.35H1083.61M1078.35 1626.25V1669.35M1090.88 1645.19V1666.58M1099.24 1672.13V1693.52M1107.59 1672.13V1693.52M1098.16 1673.20H1108.67M1103.42 1655.19V1673.20M1115.95 1670.28V1691.67M1124.30 1670.28V1691.67M1114.87 1671.35H1125.38M1120.12 1662.89V1671.35M1132.65 1668.74V1690.14M1141.01 1668.74V1690.14M1131.58 1669.82H1142.08M1136.83 1662.89V1669.82M1119.05 1663.97H1137.91M1128.48 1655.19V1663.97M1102.34 1656.27H1129.55M1115.95 1645.19V1656.27M1089.81 1646.26H1117.02M1103.42 1626.25V1646.26M1077.28 1627.33H1104.49M1090.88 1593.92V1627.33M1149.36 1661.35V1682.75M1157.72 1661.35V1682.75M1148.29 1662.43H1158.79M1153.54 1637.49V1662.43M1166.07 1645.19V1666.58M1174.42 1672.13V1693.52M1182.78 1672.13V1693.52M1173.35 1673.20H1183.85M1178.60 1645.19V1673.20M1165.00 1646.26H1179.68M1172.34 1637.49V1646.26M1152.46 1638.57H1173.41M1162.94 1613.94V1638.57M1191.13 1635.95V1657.35M1199.49 1659.50V1680.90M1207.84 1662.12V1683.52M1216.19 1662.12V1683.52M1206.77 1663.20H1217.27M1212.02 1659.50V1663.20M1198.41 1660.58H1213.09M1205.75 1645.19V1660.58M1224.55 1654.12V1675.51M1232.90 1671.36V1692.75M1241.26 1671.36V1692.75M1231.83 1672.43H1242.33M1237.08 1654.12V1672.43M1223.47 1655.19H1238.15M1230.81 1645.19V1655.19M1204.68 1646.26H1231.89M1218.28 1635.95V1646.26M1190.06 1637.03H1219.36M1204.71 1613.94V1637.03M1161.86 1615.01H1205.78M1183.82 1593.92V1615.01M1089.81 1595.00H1184.90M1137.35 1488.17V1595.00M1249.61 1671.36V1692.75M1257.96 1671.36V1692.75M1248.54 1672.43H1259.04M1253.79 1619.02V1672.43M1266.32 1684.44V1705.84M1274.67 1684.44V1705.84M1265.24 1685.52H1275.75M1270.50 1633.95V1685.52M1283.03 1666.74V1688.13M1291.38 1674.44V1695.83M1299.73 1674.44V1695.83M1290.31 1675.51H1300.81M1295.56 1666.74V1675.51M1281.95 1667.81H1296.63M1289.29 1643.65V1667.81M1308.09 1669.05V1690.44M1316.44 1673.36V1694.75M1324.80 1681.36V1702.76M1333.15 1681.36V1702.76M1323.72 1682.44H1334.23M1328.97 1675.98V1682.44M1341.51 1681.36V1702.76M1349.86 1681.36V1702.76M1340.43 1682.44H1350.93M1345.68 1677.98V1682.44M1358.21 1685.67V1707.07M1366.57 1685.67V1707.07M1357.14 1686.75H1367.64M1362.39 1679.52V1686.75M1374.92 1680.90V1702.30M1383.28 1682.13V1703.53M1391.63 1683.21V1704.61M1399.98 1683.67V1705.07M1408.34 1683.98V1705.38M1416.69 1684.29V1705.68M1425.05 1684.90V1706.30M1433.40 1685.21V1706.61M1441.75 1685.52V1706.92M1450.11 1685.52V1706.92M1440.68 1686.59H1451.18M1445.93 1685.21V1686.59M1432.32 1686.29H1447.00M1439.66 1684.90V1686.29M1423.97 1685.98H1440.74M1432.35 1684.29V1685.98M1415.62 1685.36H1433.43M1424.52 1683.98V1685.36M1407.26 1685.06H1425.60M1416.43 1683.67V1685.06M1398.91 1684.75H1417.50M1408.21 1683.21V1684.75M1390.55 1684.29H1409.28M1399.92 1682.13V1684.29M1382.20 1683.21H1400.99M1391.60 1680.90V1683.21M1373.85 1681.98H1392.67M1383.26 1679.52V1681.98M1361.31 1680.59H1384.33M1372.82 1677.98V1680.59M1344.61 1679.05H1373.90M1359.25 1675.98V1679.05M1327.90 1677.05H1360.33M1344.11 1673.36V1677.05M1315.37 1674.43H1345.19M1330.28 1669.05V1674.43M1307.01 1670.12H1331.35M1319.18 1663.66V1670.12M1458.46 1666.28V1687.67M1466.82 1677.98V1699.37M1475.17 1677.98V1699.37M1465.74 1679.05H1476.24M1470.99 1673.36V1679.05M1483.52 1676.75V1698.14M1491.88 1678.59V1699.99M1500.23 1678.59V1699.99M1490.80 1679.67H1501.31M1496.05 1676.75V1679.67M1482.45 1677.82H1497.13M1489.79 1673.36V1677.82M1469.92 1674.43H1490.86M1480.39 1666.28V1674.43M1457.39 1667.35H1481.47M1469.43 1663.66V1667.35M1318.11 1664.74H1470.50M1394.30 1657.50V1664.74M1508.59 1677.51V1698.91M1516.94 1677.51V1698.91M1507.51 1678.59H1518.01M1512.76 1661.35V1678.59M1525.29 1674.44V1695.83M1533.65 1674.44V1695.83M1524.22 1675.51H1534.72M1529.47 1661.35V1675.51M1511.69 1662.43H1530.55M1521.12 1657.50V1662.43M1393.23 1658.58H1522.19M1457.71 1643.65V1658.58M1288.22 1644.72H1458.79M1373.50 1633.95V1644.72M1269.42 1635.02H1374.58M1322.00 1619.02V1635.02M1252.71 1620.09H1323.07M1287.89 1575.45V1620.09M1542.00 1652.11V1673.51M1550.36 1652.11V1673.51M1540.93 1653.19H1551.43M1546.18 1626.25V1653.19M1558.71 1660.58V1681.98M1567.06 1660.58V1681.98M1557.63 1661.66H1568.14M1562.89 1633.64V1661.66M1575.42 1669.36V1690.75M1583.77 1669.36V1690.75M1574.34 1670.43H1584.85M1579.59 1658.27V1670.43M1592.12 1664.43V1685.83M1600.48 1668.74V1690.14M1608.83 1668.74V1690.14M1599.40 1669.82H1609.91M1604.66 1664.43V1669.82M1591.05 1665.50H1605.73M1598.39 1658.27V1665.50M1578.52 1659.35H1599.47M1588.99 1642.57V1659.35M1617.19 1662.89V1684.29M1625.54 1667.51V1688.90M1633.89 1671.82V1693.21M1642.25 1671.82V1693.21M1632.82 1672.89H1643.32M1638.07 1667.51V1672.89M1624.47 1668.58H1639.15M1631.81 1662.89V1668.58M1616.11 1663.97H1632.88M1624.50 1649.04V1663.97M1650.60 1671.05V1692.44M1658.96 1671.05V1692.44M1649.53 1672.12H1660.03M1654.78 1657.50V1672.12M1667.31 1662.12V1683.52M1675.66 1673.67V1695.06M1684.02 1673.67V1695.06M1674.59 1674.74H1685.09M1679.84 1662.12V1674.74M1666.24 1663.20H1680.92M1673.58 1657.50V1663.20M1653.70 1658.58H1674.65M1664.18 1649.04V1658.58M1623.42 1650.11H1665.25M1644.34 1642.57V1650.11M1587.92 1643.65H1645.41M1616.66 1633.64V1643.65M1561.81 1634.72H1617.74M1589.78 1626.25V1634.72M1545.10 1627.33H1590.85M1567.98 1605.16V1627.33M1692.37 1659.50V1680.90M1700.73 1663.66V1685.06M1709.08 1667.51V1688.90M1717.43 1667.51V1688.90M1708.01 1668.58H1718.51M1713.26 1663.66V1668.58M1699.65 1664.74H1714.33M1706.99 1659.50V1664.74M1691.30 1660.58H1708.07M1699.68 1618.56V1660.58M1725.79 1644.88V1666.27M1734.14 1654.42V1675.82M1742.50 1654.42V1675.82M1733.07 1655.50H1743.57M1738.32 1644.88V1655.50M1724.71 1645.95H1739.39M1732.05 1618.56V1645.95M1698.61 1619.63H1733.13M1715.87 1605.16V1619.63M1566.90 1606.24H1716.94M1641.92 1575.45V1606.24M1286.82 1576.53H1643.00M1464.91 1488.17V1576.53M1136.28 1489.24H1465.98" stroke="#000" stroke-width="2.15" fill="none" stroke-linejoin="miter" stroke-linecap="butt"/>
<path d="M1000.16 1754.18H1016.25M1000.16 1762.53H1016.25M1001.23 1753.10V1763.61M969.10 1758.35H1001.23M983.09 1770.88H999.19M1003.00 1779.24H1019.09M1003.00 1787.59H1019.09M1004.08 1778.16V1788.67M990.49 1783.42H1004.08M1001.64 1795.95H1017.73M1001.64 1804.30H1017.73M1002.71 1794.87V1805.38M996.18 1800.12H1002.71M1000.50 1812.65H1016.59M1000.50 1821.01H1016.59M1001.57 1811.58V1822.08M996.18 1816.83H1001.57M997.25 1799.05V1817.91M990.49 1808.48H997.25M991.56 1782.34V1809.55M983.09 1795.95H991.56M984.17 1769.81V1797.02M969.10 1783.42H984.17M970.18 1757.28V1784.49M945.21 1770.88H970.18M995.04 1829.36H1011.13M995.04 1837.72H1011.13M996.11 1828.29V1838.79M977.41 1833.54H996.11M983.09 1846.07H999.19M1003.00 1854.42H1019.09M1003.00 1862.78H1019.09M1004.08 1853.35V1863.85M983.09 1858.60H1004.08M984.17 1845.00V1859.68M977.41 1852.34H984.17M978.48 1832.46V1853.41M960.00 1842.94H978.48M976.27 1871.13H992.36M993.67 1879.49H1009.77M995.61 1887.84H1011.70M995.61 1896.19H1011.70M996.68 1886.77V1897.27M993.67 1892.02H996.68M994.75 1878.41V1893.09M983.09 1885.75H994.75M989.69 1904.55H1005.78M1002.43 1912.90H1018.53M1002.43 1921.26H1018.53M1003.51 1911.83V1922.33M989.69 1917.08H1003.51M990.77 1903.47V1918.15M983.09 1910.81H990.77M984.17 1884.68V1911.89M976.27 1898.28H984.17M977.34 1870.06V1899.36M960.00 1884.71H977.34M961.08 1841.86V1885.78M945.21 1863.82H961.08M946.29 1769.81V1864.90M867.06 1817.35H946.29M1002.43 1929.61H1018.53M1002.43 1937.96H1018.53M1003.51 1928.54V1939.04M963.75 1933.79H1003.51M1012.10 1946.32H1028.20M1012.10 1954.67H1028.20M1013.18 1945.24V1955.75M974.79 1950.50H1013.18M999.02 1963.03H1015.11M1004.71 1971.38H1020.80M1004.71 1979.73H1020.80M1005.78 1970.31V1980.81M999.02 1975.56H1005.78M1000.10 1961.95V1976.63M981.96 1969.29H1000.10M1000.73 1988.09H1016.82M1003.91 1996.44H1020.00M1009.83 2004.80H1025.92M1009.83 2013.15H1025.92M1010.90 2003.72V2014.23M1005.85 2008.97H1010.90M1009.83 2021.51H1025.92M1009.83 2029.86H1025.92M1010.90 2020.43V2030.93M1007.33 2025.68H1010.90M1013.01 2038.21H1029.11M1013.01 2046.57H1029.11M1014.09 2037.14V2047.64M1008.46 2042.39H1014.09M1009.49 2054.92H1025.58M1010.40 2063.28H1026.49M1011.19 2071.63H1027.28M1011.53 2079.98H1027.63M1011.76 2088.34H1027.85M1011.99 2096.69H1028.08M1012.44 2105.05H1028.54M1012.67 2113.40H1028.76M1012.90 2121.75H1028.99M1012.90 2130.11H1028.99M1013.97 2120.68V2131.18M1012.67 2125.93H1013.97M1013.75 2112.32V2127.00M1012.44 2119.66H1013.75M1013.52 2103.97V2120.74M1011.99 2112.35H1013.52M1013.06 2095.62V2113.43M1011.76 2104.52H1013.06M1012.84 2087.26V2105.60M1011.53 2096.43H1012.84M1012.61 2078.91V2097.50M1011.19 2088.21H1012.61M1012.27 2070.55V2089.28M1010.40 2079.92H1012.27M1011.47 2062.20V2080.99M1009.49 2071.60H1011.47M1010.56 2053.85V2072.67M1008.46 2063.26H1010.56M1009.54 2041.31V2064.33M1007.33 2052.82H1009.54M1008.40 2024.61V2053.90M1005.85 2039.25H1008.40M1006.92 2007.90V2040.33M1003.91 2024.11H1006.92M1004.99 1995.37V2025.19M1000.73 2010.28H1004.99M1001.80 1987.01V2011.35M996.75 1999.18H1001.80M998.68 2138.46H1014.77M1007.33 2146.82H1023.42M1007.33 2155.17H1023.42M1008.40 2145.74V2156.24M1003.91 2150.99H1008.40M1006.42 2163.52H1022.51M1007.78 2171.88H1023.87M1007.78 2180.23H1023.87M1008.86 2170.80V2181.31M1006.42 2176.05H1008.86M1007.49 2162.45V2177.13M1003.91 2169.79H1007.49M1004.99 2149.92V2170.86M998.68 2160.39H1004.99M999.75 2137.39V2161.47M996.75 2149.43H999.75M997.82 1998.11V2150.50M992.20 2074.30H997.82M1006.98 2188.59H1023.08M1006.98 2196.94H1023.08M1008.06 2187.51V2198.01M995.04 2192.76H1008.06M1004.71 2205.29H1020.80M1004.71 2213.65H1020.80M1005.78 2204.22V2214.72M995.04 2209.47H1005.78M996.11 2191.69V2210.54M992.20 2201.12H996.11M993.27 2073.23V2202.19M981.96 2137.71H993.27M983.03 1968.22V2138.79M974.79 2053.50H983.03M975.86 1949.42V2054.58M963.75 2002.00H975.86M964.83 1932.71V2003.07M931.56 1967.89H964.83M988.21 2222.00H1004.30M988.21 2230.36H1004.30M989.29 2220.93V2231.43M969.10 2226.18H989.29M994.47 2238.71H1010.56M994.47 2247.06H1010.56M995.55 2237.63V2248.14M974.56 2242.89H995.55M1000.95 2255.42H1017.05M1000.95 2263.77H1017.05M1002.03 2254.34V2264.85M992.76 2259.59H1002.03M997.31 2272.12H1013.41M1000.50 2280.48H1016.59M1000.50 2288.83H1016.59M1001.57 2279.40V2289.91M997.31 2284.66H1001.57M998.39 2271.05V2285.73M992.76 2278.39H998.39M993.84 2258.52V2279.47M981.16 2268.99H993.84M996.18 2297.19H1012.27M999.59 2305.54H1015.68M1002.77 2313.89H1018.87M1002.77 2322.25H1018.87M1003.85 2312.82V2323.32M999.59 2318.07H1003.85M1000.66 2304.47V2319.15M996.18 2311.81H1000.66M997.25 2296.11V2312.88M985.94 2304.50H997.25M1002.21 2330.60H1018.30M1002.21 2338.96H1018.30M1003.28 2329.53V2340.03M992.20 2334.78H1003.28M995.61 2347.31H1011.70M1004.14 2355.66H1020.23M1004.14 2364.02H1020.23M1005.22 2354.59V2365.09M995.61 2359.84H1005.22M996.68 2346.24V2360.92M992.20 2353.58H996.68M993.27 2333.70V2354.65M985.94 2344.18H993.27M987.01 2303.42V2345.25M981.16 2324.34H987.01M982.24 2267.92V2325.41M974.56 2296.66H982.24M975.64 2241.81V2297.74M969.10 2269.78H975.64M970.18 2225.10V2270.85M953.52 2247.98H970.18M993.67 2372.37H1009.77M996.75 2380.73H1012.84M999.59 2389.08H1015.68M999.59 2397.43H1015.68M1000.66 2388.01V2398.51M996.75 2393.26H1000.66M997.82 2379.65V2394.33M993.67 2386.99H997.82M994.75 2371.30V2388.07M963.41 2379.68H994.75M982.87 2405.79H998.96M989.92 2414.14H1006.01M989.92 2422.50H1006.01M990.99 2413.07V2423.57M982.87 2418.32H990.99M983.94 2404.71V2419.39M963.41 2412.05H983.94M964.49 2378.61V2413.13M953.52 2395.87H964.49M954.59 2246.90V2396.94M931.56 2321.92H954.59M932.63 1966.82V2323.00M867.06 2144.91H932.63M868.13 1816.28V2145.98" stroke="#000" stroke-width="2.15" fill="none" stroke-linejoin="miter" stroke-linecap="butt"/>
<g shape-rendering="crispEdges">
<rect x="1070.00" y="1715.00" width="92.29" height="27.60" fill="#40e0d0" stroke="none" stroke-width="0"/>
<rect x="1035.40" y="1750.00" width="27.40" height="92.29" fill="#40e0d0" stroke="none" stroke-width="0"/>
<rect x="1161.89" y="1715.00" width="25.46" height="27.60" fill="#0000ff" stroke="none" stroke-width="0"/>
<rect x="1035.40" y="1841.89" width="27.40" height="25.46" fill="#0000ff" stroke="none" stroke-width="0"/>
<rect x="1186.96" y="1715.00" width="75.59" height="27.60" fill="#40e0d0" stroke="none" stroke-width="0"/>
<rect x="1035.40" y="1866.96" width="27.40" height="75.59" fill="#40e0d0" stroke="none" stroke-width="0"/>
<rect x="1262.14" y="1715.00" width="17.11" height="27.60" fill="#bebebe" stroke="none" stroke-width="0"/>
<rect x="1035.40" y="1942.14" width="27.40" height="17.11" fill="#bebebe" stroke="none" stroke-width="0"/>
<rect x="1278.85" y="1715.00" width="25.46" height="27.60" fill="#a52a2a" stroke="none" stroke-width="0"/>
<rect x="1035.40" y="1958.85" width="27.40" height="25.46" fill="#a52a2a" stroke="none" stroke-width="0"/>
<rect x="1303.91" y="1715.00" width="8.75" height="27.60" fill="#40e0d0" stroke="none" stroke-width="0"/>
<rect x="1035.40" y="1983.91" width="27.40" height="8.75" fill="#40e0d0" stroke="none" stroke-width="0"/>
<rect x="1312.27" y="1715.00" width="8.75" height="27.60" fill="#bebebe" stroke="none" stroke-width="0"/>
<rect x="1035.40" y="1992.27" width="27.40" height="8.75" fill="#bebebe" stroke="none" stroke-width="0"/>
<rect x="1320.62" y="1715.00" width="17.11" height="27.60" fill="#a52a2a" stroke="none" stroke-width="0"/>
<rect x="1035.40" y="2000.62" width="27.40" height="17.11" fill="#a52a2a" stroke="none" stroke-width="0"/>
<rect x="1337.33" y="1715.00" width="117.36" height="27.60" fill="#bebebe" stroke="none" stroke-width="0"/>
<rect x="1035.40" y="2017.33" width="27.40" height="117.36" fill="#bebebe" stroke="none" stroke-width="0"/>
<rect x="1454.28" y="1715.00" width="25.46" height="27.60" fill="#40e0d0" stroke="none" stroke-width="0"/>
<rect x="1035.40" y="2134.28" width="27.40" height="25.46" fill="#40e0d0" stroke="none" stroke-width="0"/>
<rect x="1479.35" y="1715.00" width="8.75" height="27.60" fill="#bebebe" stroke="none" stroke-width="0"/>
<rect x="1035.40" y="2159.35" width="27.40" height="8.75" fill="#bebebe" stroke="none" stroke-width="0"/>
<rect x="1487.70" y="1715.00" width="17.11" height="27.60" fill="#40e0d0" stroke="none" stroke-width="0"/>
<rect x="1035.40" y="2167.70" width="27.40" height="17.11" fill="#40e0d0" stroke="none" stroke-width="0"/>
<rect x="1504.41" y="1715.00" width="17.11" height="27.60" fill="#bebebe" stroke="none" stroke-width="0"/>
<rect x="1035.40" y="2184.41" width="27.40" height="17.11" fill="#bebebe" stroke="none" stroke-width="0"/>
<rect x="1521.12" y="1715.00" width="42.17" height="27.60" fill="#0000ff" stroke="none" stroke-width="0"/>
<rect x="1035.40" y="2201.12" width="27.40" height="42.17" fill="#0000ff" stroke="none" stroke-width="0"/>
<rect x="1562.89" y="1715.00" width="25.46" height="27.60" fill="#40e0d0" stroke="none" stroke-width="0"/>
<rect x="1035.40" y="2242.89" width="27.40" height="25.46" fill="#40e0d0" stroke="none" stroke-width="0"/>
<rect x="1587.95" y="1715.00" width="17.11" height="27.60" fill="#0000ff" stroke="none" stroke-width="0"/>
<rect x="1035.40" y="2267.95" width="27.40" height="17.11" fill="#0000ff" stroke="none" stroke-width="0"/>
<rect x="1604.66" y="1715.00" width="50.52" height="27.60" fill="#40e0d0" stroke="none" stroke-width="0"/>
<rect x="1035.40" y="2284.66" width="27.40" height="50.52" fill="#40e0d0" stroke="none" stroke-width="0"/>
<rect x="1654.78" y="1715.00" width="8.75" height="27.60" fill="#0000ff" stroke="none" stroke-width="0"/>
<rect x="1035.40" y="2334.78" width="27.40" height="8.75" fill="#0000ff" stroke="none" stroke-width="0"/>
<rect x="1663.13" y="1715.00" width="58.88" height="27.60" fill="#40e0d0" stroke="none" stroke-width="0"/>
<rect x="1035.40" y="2343.13" width="27.40" height="58.88" fill="#40e0d0" stroke="none" stroke-width="0"/>
<rect x="1721.61" y="1715.00" width="25.46" height="27.60" fill="#0000ff" stroke="none" stroke-width="0"/>
<rect x="1035.40" y="2401.61" width="27.40" height="25.46" fill="#0000ff" stroke="none" stroke-width="0"/>
<rect x="1070.00" y="1750.00" width="676.67" height="676.67" fill="#7f0027" stroke="none" stroke-width="0"/>
<path d="M1254 1783h8v9h-8zM1254 1792h8v8h-8zM1254 1800h8v8h-8zM1529 1834h9v8h-9zM1529 1842h9v8h-9zM1529 1859h9v8h-9zM1596 1867h17v8h-17zM1671 1867h9v8h-9zM1245 1892h9v8h-9zM1245 1900h9v9h-9zM1596 1900h9v9h-9zM1646 1900h9v9h-9zM1671 1900h17v9h-17zM1245 1909h9v8h-9zM1212 1925h25v9h-25zM1103 1934h25v8h-25zM1154 2209h16v9h-16zM1179 2209h8v9h-8zM1187 2276h8v9h-8zM1220 2276h9v9h-9zM1187 2285h8v8h-8zM1730 2285h17v8h-17zM1730 2293h8v8h-8zM1638 2301h8v9h-8zM1621 2318h9v8h-9zM1220 2326h9v9h-9zM1722 2343h8v8h-8zM1187 2351h8v9h-8zM1220 2351h9v9h-9zM1220 2360h9v8h-9zM1730 2377h17v8h-17zM1663 2402h8v8h-8zM1605 2410h16v8h-16zM1697 2410h8v8h-8zM1605 2418h8v9h-8zM1697 2418h8v9h-8z" fill="#8e0420"/>
<path d="M1521 1917h17v8h-17zM1237 2201h8v8h-8zM1237 2209h8v9h-8zM1638 2209h8v9h-8zM1663 2293h8v8h-8zM1738 2293h9v8h-9zM1529 2318h9v8h-9zM1730 2326h8v9h-8zM1730 2335h8v8h-8zM1613 2343h8v8h-8zM1646 2410h17v8h-17zM1613 2418h8v9h-8z" fill="#9e081a"/>
<path d="M1538 1767h25v8h-25zM1588 1767h8v8h-8zM1546 1775h9v8h-9zM1588 1775h25v8h-25zM1546 1783h9v9h-9zM1580 1783h33v9h-33zM1546 1792h9v8h-9zM1588 1792h25v8h-25zM1538 1800h17v8h-17zM1571 1800h9v8h-9zM1588 1800h17v8h-17zM1571 1808h9v9h-9zM1596 1808h17v9h-17zM1546 1817h9v8h-9zM1555 1825h8v9h-8zM1571 1825h25v9h-25zM1571 1834h25v8h-25zM1571 1842h17v8h-17zM1605 1850h8v9h-8zM1605 1859h8v8h-8zM1546 1867h9v8h-9zM1571 1867h25v8h-25zM1630 1867h33v8h-33zM1697 1867h8v8h-8zM1538 1875h17v9h-17zM1596 1875h17v9h-17zM1538 1884h17v8h-17zM1571 1884h17v8h-17zM1555 1892h8v8h-8zM1580 1892h8v8h-8zM1630 1892h8v8h-8zM1571 1900h17v9h-17zM1605 1900h8v9h-8zM1621 1900h25v9h-25zM1655 1900h8v9h-8zM1571 1909h9v8h-9zM1605 1909h8v8h-8zM1646 1909h17v8h-17zM1538 1917h17v8h-17zM1571 1917h9v8h-9zM1588 1917h25v8h-25zM1646 1917h17v8h-17zM1087 2218h8v8h-8zM1120 2218h8v8h-8zM1195 2218h17v8h-17zM1237 2218h8v8h-8zM1087 2226h41v9h-41zM1137 2226h8v9h-8zM1187 2226h25v9h-25zM1237 2226h8v9h-8zM1087 2235h8v8h-8zM1145 2235h9v8h-9zM1212 2235h8v8h-8zM1120 2251h17v9h-17zM1145 2251h25v9h-25zM1187 2251h8v9h-8zM1204 2251h8v9h-8zM1220 2251h25v9h-25zM1103 2260h9v8h-9zM1145 2260h25v8h-25zM1187 2260h8v8h-8zM1204 2260h25v8h-25zM1087 2268h41v8h-41zM1145 2268h17v8h-17zM1187 2268h8v8h-8zM1237 2268h8v8h-8zM1095 2276h42v9h-42zM1195 2276h9v9h-9zM1237 2276h8v9h-8zM1095 2285h25v8h-25zM1128 2285h9v8h-9zM1170 2285h17v8h-17zM1195 2285h9v8h-9zM1220 2285h25v8h-25zM1220 2301h9v9h-9zM1187 2310h8v8h-8zM1212 2310h17v8h-17zM1187 2318h8v8h-8zM1220 2318h9v8h-9zM1187 2326h8v9h-8zM1229 2326h16v9h-16zM1187 2335h8v8h-8zM1220 2335h25v8h-25zM1187 2377h8v8h-8z" fill="#a50a16"/>
<path d="M1521 1825h17v9h-17zM1521 1834h8v8h-8zM1521 1842h8v8h-8zM1521 1850h17v9h-17zM1521 1859h8v8h-8zM1521 1925h42v9h-42zM1145 2201h42v8h-42zM1245 2201h9v8h-9zM1538 2201h17v8h-17zM1145 2209h9v9h-9zM1170 2209h9v9h-9zM1245 2209h9v9h-9zM1245 2218h9v8h-9zM1521 2218h8v8h-8zM1245 2226h9v9h-9zM1521 2226h8v9h-8zM1245 2235h9v8h-9zM1663 2301h25v9h-25zM1688 2310h9v8h-9zM1646 2318h17v8h-17zM1638 2326h8v9h-8zM1638 2335h8v8h-8zM1738 2335h9v8h-9zM1621 2343h9v8h-9zM1621 2351h9v9h-9zM1621 2360h9v8h-9zM1688 2360h9v8h-9zM1630 2368h8v9h-8zM1680 2368h8v9h-8zM1655 2418h8v9h-8z" fill="#a90c13"/>
<path d="M1254 1750h8v8h-8zM1463 1750h16v8h-16zM1254 1758h8v9h-8zM1463 1758h8v9h-8zM1245 1767h17v8h-17zM1463 1767h16v8h-16zM1245 1775h17v8h-17zM1279 1775h8v8h-8zM1471 1775h8v8h-8zM1245 1783h9v9h-9zM1279 1783h8v9h-8zM1245 1792h9v8h-9zM1279 1792h8v8h-8zM1245 1800h9v8h-9zM1279 1800h8v8h-8zM1254 1808h8v9h-8zM1279 1808h8v9h-8zM1254 1817h8v8h-8zM1279 1817h8v8h-8zM1471 1817h8v8h-8zM1245 1825h9v9h-9zM1245 1834h9v8h-9zM1463 1834h8v8h-8zM1254 1842h8v8h-8zM1279 1842h8v8h-8zM1463 1842h16v8h-16zM1254 1850h8v9h-8zM1254 1859h8v8h-8zM1245 1867h17v8h-17zM1245 1875h17v9h-17zM1245 1884h17v8h-17zM1471 1884h8v8h-8zM1471 1892h8v8h-8zM1245 1917h9v8h-9zM1087 1925h41v9h-41zM1145 1925h17v9h-17zM1187 1925h25v9h-25zM1237 1925h8v9h-8zM1605 1925h8v9h-8zM1646 1925h9v9h-9zM1680 1925h8v9h-8zM1713 1925h34v9h-34zM1070 1934h33v8h-33zM1128 1934h17v8h-17zM1162 1934h50v8h-50zM1454 1934h9v8h-9zM1513 1934h25v8h-25zM1546 1934h9v8h-9zM1646 1934h9v8h-9zM1713 1934h9v8h-9zM1730 1934h8v8h-8zM1095 1959h50v8h-50zM1162 1959h8v8h-8zM1680 1959h25v8h-25zM1329 1967h8v9h-8zM1321 1976h16v8h-16zM1513 1992h8v9h-8zM1296 2001h8v8h-8zM1287 2009h17v8h-17zM1479 2017h9v9h-9zM1254 2134h8v9h-8zM1070 2143h25v8h-25zM1154 2143h16v8h-16zM1638 2143h8v8h-8zM1680 2143h8v8h-8zM1070 2151h8v8h-8zM1087 2151h16v8h-16zM1137 2151h8v8h-8zM1162 2151h8v8h-8zM1204 2151h16v8h-16zM1337 2159h9v9h-9zM1663 2176h8v8h-8zM1529 2184h9v9h-9zM1254 2193h8v8h-8zM1312 2193h9v8h-9zM1254 2201h8v8h-8zM1638 2201h8v8h-8zM1663 2201h8v8h-8zM1254 2209h8v9h-8zM1504 2209h9v9h-9zM1538 2209h17v9h-17zM1596 2209h9v9h-9zM1663 2209h8v9h-8zM1529 2218h9v8h-9zM1596 2218h9v8h-9zM1638 2218h8v8h-8zM1705 2218h8v8h-8zM1254 2226h8v9h-8zM1529 2226h9v9h-9zM1638 2226h8v9h-8zM1705 2226h8v9h-8zM1722 2235h8v8h-8zM1688 2243h9v8h-9zM1705 2243h17v8h-17zM1663 2251h8v9h-8zM1688 2251h9v9h-9zM1705 2251h8v9h-8zM1688 2260h9v8h-9zM1730 2268h17v8h-17zM1529 2276h17v9h-17zM1638 2276h17v9h-17zM1680 2276h8v9h-8zM1713 2276h9v9h-9zM1730 2276h17v9h-17zM1245 2285h9v8h-9zM1638 2285h8v8h-8zM1663 2285h8v8h-8zM1705 2285h25v8h-25zM1638 2293h8v8h-8zM1655 2293h8v8h-8zM1697 2293h33v8h-33zM1688 2301h59v9h-59zM1697 2310h25v8h-25zM1730 2310h17v8h-17zM1463 2318h8v8h-8zM1521 2318h8v8h-8zM1538 2318h17v8h-17zM1596 2318h25v8h-25zM1680 2318h8v8h-8zM1705 2318h17v8h-17zM1730 2318h17v8h-17zM1245 2326h17v9h-17zM1596 2326h9v9h-9zM1663 2326h34v9h-34zM1705 2326h25v9h-25zM1738 2326h9v9h-9zM1613 2335h8v8h-8zM1663 2335h34v8h-34zM1705 2335h25v8h-25zM1496 2343h8v8h-8zM1521 2343h17v8h-17zM1571 2343h9v8h-9zM1605 2343h8v8h-8zM1646 2343h17v8h-17zM1671 2343h9v8h-9zM1705 2343h8v8h-8zM1646 2351h25v9h-25zM1688 2351h9v9h-9zM1705 2351h8v9h-8zM1245 2360h9v8h-9zM1279 2360h8v8h-8zM1463 2360h8v8h-8zM1596 2360h9v8h-9zM1638 2360h25v8h-25zM1697 2360h25v8h-25zM1279 2368h8v9h-8zM1563 2368h25v9h-25zM1621 2368h9v9h-9zM1646 2368h17v9h-17zM1671 2368h9v9h-9zM1722 2368h25v9h-25zM1279 2377h8v8h-8zM1613 2377h25v8h-25zM1680 2377h8v8h-8zM1538 2385h17v8h-17zM1563 2385h17v8h-17zM1605 2385h83v8h-83zM1730 2385h17v8h-17zM1245 2393h17v9h-17zM1563 2393h8v9h-8zM1596 2393h67v9h-67zM1680 2393h8v9h-8zM1730 2393h17v9h-17zM1245 2402h9v8h-9zM1555 2402h8v8h-8zM1605 2402h25v8h-25zM1646 2402h17v8h-17zM1688 2402h9v8h-9zM1245 2410h17v8h-17zM1588 2410h17v8h-17zM1621 2410h25v8h-25zM1688 2410h9v8h-9zM1705 2410h17v8h-17zM1245 2418h9v9h-9zM1588 2418h17v9h-17zM1621 2418h34v9h-34zM1688 2418h9v9h-9zM1705 2418h17v9h-17z" fill="#b40f0c"/>
<path d="M1588 1817h17v8h-17zM1680 1825h8v9h-8zM1663 1850h25v9h-25zM1588 1859h8v8h-8zM1671 1859h9v8h-9zM1663 1867h8v8h-8zM1680 1867h8v8h-8zM1555 1884h8v8h-8zM1596 1892h17v8h-17zM1722 1892h8v8h-8zM1663 1900h8v9h-8zM1722 1900h8v9h-8zM1663 1909h25v8h-25zM1671 1917h17v8h-17zM1204 2235h8v8h-8zM1137 2268h8v8h-8zM1179 2268h8v8h-8zM1137 2276h8v9h-8zM1212 2276h8v9h-8zM1212 2285h8v8h-8zM1170 2343h9v8h-9zM1187 2343h8v8h-8zM1220 2343h17v8h-17zM1170 2351h17v9h-17zM1229 2351h16v9h-16zM1145 2360h9v8h-9zM1170 2360h9v8h-9zM1187 2360h8v8h-8zM1229 2360h16v8h-16zM1212 2402h17v8h-17z" fill="#b7130c"/>
<path d="M1296 1758h8v9h-8zM1287 1767h17v8h-17zM1463 1859h8v8h-8zM1279 1884h8v8h-8zM1671 1934h9v8h-9zM1204 1959h8v8h-8zM1571 1959h9v8h-9zM1655 1959h16v8h-16zM1087 1967h8v9h-8zM1078 1976h17v8h-17zM1529 1992h9v9h-9zM1504 2017h9v9h-9zM1504 2026h9v8h-9zM1596 2134h9v9h-9zM1179 2143h8v8h-8zM1688 2151h9v8h-9zM1337 2184h17v9h-17zM1312 2209h9v9h-9zM1655 2218h8v8h-8zM1605 2226h8v9h-8zM1279 2251h8v9h-8zM1454 2276h9v9h-9zM1546 2285h9v8h-9zM1279 2335h8v8h-8zM1538 2335h8v8h-8zM1279 2343h8v8h-8zM1254 2351h8v9h-8zM1471 2368h8v9h-8zM1713 2385h9v8h-9zM1705 2393h8v9h-8zM1722 2393h8v9h-8zM1713 2402h9v8h-9z" fill="#c5220a"/>
<path d="M1588 1750h17v8h-17zM1588 1758h17v9h-17zM1596 1767h9v8h-9zM1646 1775h9v8h-9zM1630 1783h25v9h-25zM1646 1792h17v8h-17zM1646 1800h17v8h-17zM1538 1808h17v9h-17zM1538 1817h8v8h-8zM1605 1817h8v8h-8zM1646 1817h9v8h-9zM1546 1825h9v9h-9zM1563 1825h8v9h-8zM1596 1825h17v9h-17zM1646 1825h17v9h-17zM1596 1834h17v8h-17zM1646 1834h9v8h-9zM1605 1842h8v8h-8zM1613 1850h17v9h-17zM1613 1859h8v8h-8zM1697 1859h8v8h-8zM1613 1867h17v8h-17zM1555 1875h16v9h-16zM1613 1875h25v9h-25zM1697 1875h8v9h-8zM1563 1884h8v8h-8zM1613 1884h8v8h-8zM1630 1884h8v8h-8zM1613 1892h17v8h-17zM1555 1900h8v9h-8zM1613 1900h8v9h-8zM1555 1909h8v8h-8zM1555 1917h8v8h-8zM1621 1917h9v8h-9zM1128 2218h17v8h-17zM1128 2226h9v9h-9zM1145 2226h9v9h-9zM1195 2235h9v8h-9zM1220 2235h25v8h-25zM1145 2243h9v8h-9zM1195 2243h17v8h-17zM1070 2268h17v8h-17zM1070 2276h25v9h-25zM1145 2276h17v9h-17zM1137 2285h33v8h-33zM1170 2293h59v8h-59zM1170 2301h9v9h-9zM1187 2301h17v9h-17zM1212 2301h8v9h-8zM1237 2301h8v9h-8zM1103 2310h9v8h-9zM1195 2310h17v8h-17zM1103 2318h9v8h-9zM1095 2326h33v9h-33zM1137 2326h25v9h-25zM1112 2335h16v8h-16zM1145 2335h9v8h-9zM1179 2377h8v8h-8zM1195 2377h9v8h-9z" fill="#c8250a"/>
<path d="M1245 1750h9v8h-9zM1279 1750h8v8h-8zM1245 1758h9v9h-9zM1279 1758h8v9h-8zM1471 1758h8v9h-8zM1279 1767h8v8h-8zM1245 1808h9v9h-9zM1245 1817h9v8h-9zM1245 1842h9v8h-9zM1245 1850h9v9h-9zM1220 1859h17v8h-17zM1245 1859h9v8h-9zM1204 1867h8v8h-8zM1212 1875h17v9h-17zM1187 1884h8v8h-8zM1195 1892h9v8h-9zM1179 1900h8v9h-8zM1195 1900h9v9h-9zM1179 1909h8v8h-8zM1070 1925h17v9h-17zM1128 1925h17v9h-17zM1162 1925h25v9h-25zM1070 1959h25v8h-25zM1078 2151h9v8h-9zM1722 2201h8v8h-8zM1722 2209h8v9h-8zM1730 2218h8v8h-8zM1730 2226h17v9h-17zM1697 2276h16v9h-16zM1697 2285h8v8h-8zM1688 2293h9v8h-9zM1722 2310h8v8h-8zM1688 2318h17v8h-17zM1722 2318h8v8h-8zM1697 2326h8v9h-8zM1697 2335h8v8h-8zM1680 2343h17v8h-17zM1697 2351h8v9h-8zM1663 2360h8v8h-8zM1613 2368h8v9h-8zM1638 2368h8v9h-8zM1663 2368h8v9h-8zM1596 2377h17v8h-17zM1638 2377h25v8h-25zM1671 2377h9v8h-9zM1722 2377h8v8h-8zM1596 2385h9v8h-9zM1521 2402h17v8h-17zM1630 2402h16v8h-16zM1697 2402h8v8h-8zM1538 2410h17v8h-17zM1546 2418h9v9h-9z" fill="#d63408"/>
<path d="M1546 1750h9v8h-9zM1605 1750h8v8h-8zM1571 1767h17v8h-17zM1538 1775h8v8h-8zM1671 1775h17v8h-17zM1671 1783h17v9h-17zM1663 1792h25v8h-25zM1605 1800h8v8h-8zM1621 1800h9v8h-9zM1663 1800h25v8h-25zM1671 1808h9v9h-9zM1671 1817h17v8h-17zM1663 1825h17v9h-17zM1663 1834h25v8h-25zM1663 1842h25v8h-25zM1663 1859h8v8h-8zM1680 1859h8v8h-8zM1688 1867h9v8h-9zM1705 1867h25v8h-25zM1646 1875h42v9h-42zM1596 1884h17v8h-17zM1646 1884h17v8h-17zM1671 1884h17v8h-17zM1730 1884h17v8h-17zM1655 1892h8v8h-8zM1671 1892h17v8h-17zM1730 1892h17v8h-17zM1697 1900h25v9h-25zM1730 1900h17v9h-17zM1722 1909h25v8h-25zM1580 1917h8v8h-8zM1663 1917h8v8h-8zM1095 2218h8v8h-8zM1070 2226h8v9h-8zM1087 2251h8v9h-8zM1087 2260h8v8h-8zM1237 2260h8v8h-8zM1204 2276h8v9h-8zM1070 2285h8v8h-8zM1120 2285h8v8h-8zM1204 2285h8v8h-8zM1120 2301h8v9h-8zM1195 2326h17v9h-17zM1195 2335h25v8h-25zM1112 2343h16v8h-16zM1145 2343h25v8h-25zM1179 2343h8v8h-8zM1195 2343h9v8h-9zM1237 2343h8v8h-8zM1095 2351h75v9h-75zM1195 2351h25v9h-25zM1095 2360h33v8h-33zM1137 2360h8v8h-8zM1154 2360h16v8h-16zM1179 2360h8v8h-8zM1195 2360h25v8h-25zM1187 2368h8v9h-8zM1220 2377h9v8h-9zM1187 2385h8v8h-8zM1220 2385h9v8h-9zM1187 2393h8v9h-8zM1220 2393h9v9h-9zM1187 2402h8v8h-8zM1229 2402h8v8h-8zM1204 2410h33v8h-33zM1204 2418h33v9h-33z" fill="#d83808"/>
<path d="M1279 1892h8v8h-8zM1663 1925h8v9h-8zM1663 1934h8v8h-8zM1680 1934h8v8h-8zM1212 1959h8v8h-8zM1287 1959h9v8h-9zM1279 1967h8v9h-8zM1671 2134h9v9h-9zM1529 2193h9v8h-9zM1513 2209h8v9h-8zM1596 2226h9v9h-9zM1563 2235h8v8h-8zM1555 2243h8v8h-8zM1730 2243h17v8h-17zM1546 2276h9v9h-9zM1655 2276h8v9h-8zM1722 2276h8v9h-8zM1638 2310h8v8h-8zM1630 2318h8v8h-8zM1596 2335h9v8h-9zM1245 2343h17v8h-17zM1454 2351h9v9h-9zM1713 2351h9v9h-9zM1254 2360h8v8h-8zM1705 2368h8v9h-8zM1688 2385h9v8h-9zM1722 2385h8v8h-8zM1671 2393h9v9h-9zM1596 2402h9v8h-9zM1705 2402h8v8h-8zM1563 2410h8v8h-8zM1563 2418h8v9h-8z" fill="#e1490a"/>
<path d="M1538 1750h8v8h-8zM1571 1750h17v8h-17zM1538 1758h17v9h-17zM1571 1758h17v9h-17zM1605 1758h8v9h-8zM1563 1767h8v8h-8zM1605 1767h8v8h-8zM1680 1767h8v8h-8zM1571 1775h17v8h-17zM1613 1775h8v8h-8zM1655 1775h8v8h-8zM1538 1783h8v9h-8zM1571 1783h9v9h-9zM1613 1783h17v9h-17zM1655 1783h8v9h-8zM1538 1792h8v8h-8zM1571 1792h17v8h-17zM1613 1792h33v8h-33zM1555 1800h8v8h-8zM1638 1800h8v8h-8zM1580 1808h16v9h-16zM1621 1808h9v9h-9zM1646 1808h17v9h-17zM1680 1808h8v9h-8zM1555 1817h8v8h-8zM1571 1817h17v8h-17zM1630 1817h16v8h-16zM1655 1817h16v8h-16zM1538 1825h8v9h-8zM1613 1825h17v9h-17zM1546 1834h25v8h-25zM1621 1834h9v8h-9zM1546 1842h9v8h-9zM1588 1842h8v8h-8zM1646 1842h9v8h-9zM1588 1850h8v9h-8zM1646 1850h9v9h-9zM1546 1859h25v8h-25zM1596 1859h9v8h-9zM1630 1859h25v8h-25zM1538 1867h8v8h-8zM1588 1875h8v9h-8zM1638 1875h8v9h-8zM1705 1875h8v9h-8zM1638 1884h8v8h-8zM1638 1892h17v8h-17zM1705 1892h8v8h-8zM1580 1909h8v8h-8zM1621 1909h25v8h-25zM1563 1917h8v8h-8zM1613 1917h8v8h-8zM1722 1917h25v8h-25zM1070 2218h17v8h-17zM1103 2218h17v8h-17zM1145 2218h9v8h-9zM1187 2218h8v8h-8zM1078 2226h9v9h-9zM1154 2226h16v9h-16zM1179 2226h8v9h-8zM1120 2235h8v8h-8zM1137 2235h8v8h-8zM1154 2235h8v8h-8zM1179 2235h8v8h-8zM1087 2243h8v8h-8zM1154 2243h8v8h-8zM1179 2243h8v8h-8zM1237 2243h8v8h-8zM1070 2251h17v9h-17zM1095 2251h25v9h-25zM1137 2251h8v9h-8zM1070 2260h17v8h-17zM1095 2260h8v8h-8zM1112 2260h8v8h-8zM1128 2260h17v8h-17zM1229 2260h8v8h-8zM1128 2268h9v8h-9zM1162 2268h17v8h-17zM1195 2268h9v8h-9zM1179 2276h8v9h-8zM1078 2285h17v8h-17zM1095 2293h25v8h-25zM1145 2293h9v8h-9zM1237 2293h8v8h-8zM1103 2301h17v9h-17zM1128 2301h9v9h-9zM1145 2301h17v9h-17zM1229 2301h8v9h-8zM1112 2310h8v8h-8zM1137 2310h8v8h-8zM1179 2310h8v8h-8zM1229 2310h8v8h-8zM1112 2318h16v8h-16zM1137 2318h8v8h-8zM1179 2318h8v8h-8zM1195 2318h25v8h-25zM1229 2318h8v8h-8zM1128 2326h9v9h-9zM1162 2326h25v9h-25zM1212 2326h8v9h-8zM1095 2335h17v8h-17zM1128 2335h17v8h-17zM1137 2343h8v8h-8zM1087 2360h8v8h-8zM1128 2360h9v8h-9zM1195 2385h9v8h-9zM1212 2385h8v8h-8zM1237 2402h8v8h-8zM1237 2410h8v8h-8zM1237 2418h8v9h-8z" fill="#e34d0a"/>
<path d="M1187 1825h8v9h-8zM1212 1825h17v9h-17zM1204 1850h41v9h-41zM1204 1859h16v8h-16zM1237 1859h8v8h-8zM1145 1867h9v8h-9zM1195 1867h9v8h-9zM1212 1867h8v8h-8zM1229 1867h8v8h-8zM1187 1875h8v9h-8zM1204 1875h8v9h-8zM1170 1884h17v8h-17zM1195 1884h9v8h-9zM1220 1884h9v8h-9zM1145 1892h9v8h-9zM1170 1892h25v8h-25zM1220 1892h17v8h-17zM1145 1900h9v9h-9zM1170 1900h9v9h-9zM1204 1900h16v9h-16zM1170 1909h9v8h-9zM1187 1909h8v8h-8zM1212 1909h8v8h-8zM1170 1917h17v8h-17zM1613 1984h8v8h-8zM1504 1992h9v9h-9zM1680 2134h8v9h-8zM1312 2184h9v9h-9zM1529 2201h9v8h-9zM1521 2209h8v9h-8zM1738 2235h9v8h-9zM1688 2285h9v8h-9zM1304 2293h8v8h-8zM1655 2326h8v9h-8zM1646 2335h9v8h-9zM1697 2343h8v8h-8zM1713 2343h9v8h-9zM1454 2360h9v8h-9zM1605 2368h8v9h-8zM1697 2368h8v9h-8zM1713 2368h9v9h-9zM1663 2377h8v8h-8zM1688 2377h9v8h-9zM1663 2393h8v9h-8zM1688 2393h9v9h-9zM1730 2402h17v8h-17zM1722 2410h8v8h-8zM1555 2418h8v9h-8zM1722 2418h8v9h-8z" fill="#ec5e0c"/>
<path d="M1671 1750h17v8h-17zM1730 1767h17v8h-17zM1630 1775h16v8h-16zM1663 1775h8v8h-8zM1722 1775h8v8h-8zM1663 1783h8v9h-8zM1722 1783h8v9h-8zM1580 1800h8v8h-8zM1738 1800h9v8h-9zM1663 1808h8v9h-8zM1730 1825h17v9h-17zM1655 1834h8v8h-8zM1596 1842h9v8h-9zM1555 1850h16v9h-16zM1596 1850h9v9h-9zM1630 1850h16v9h-16zM1688 1850h17v9h-17zM1713 1850h9v9h-9zM1621 1859h9v8h-9zM1688 1859h9v8h-9zM1713 1859h9v8h-9zM1688 1875h9v9h-9zM1722 1875h25v9h-25zM1621 1884h9v8h-9zM1663 1884h8v8h-8zM1722 1884h8v8h-8zM1563 1892h17v8h-17zM1663 1892h8v8h-8zM1697 1892h8v8h-8zM1688 1900h9v9h-9zM1563 1909h8v8h-8zM1613 1909h8v8h-8zM1697 1909h16v8h-16zM1630 1917h16v8h-16zM1170 2235h9v8h-9zM1170 2243h9v8h-9zM1212 2243h8v8h-8zM1229 2243h8v8h-8zM1212 2251h8v9h-8zM1120 2260h8v8h-8zM1162 2276h17v9h-17zM1229 2293h8v8h-8zM1179 2301h8v9h-8zM1204 2301h8v9h-8zM1095 2310h8v8h-8zM1170 2310h9v8h-9zM1237 2310h8v8h-8zM1095 2318h8v8h-8zM1170 2318h9v8h-9zM1237 2318h8v8h-8zM1154 2335h8v8h-8zM1095 2343h17v8h-17zM1128 2343h9v8h-9zM1204 2343h16v8h-16zM1070 2351h8v9h-8zM1070 2360h8v8h-8zM1170 2368h17v9h-17zM1195 2368h9v9h-9zM1220 2368h9v9h-9zM1170 2377h9v8h-9zM1212 2377h8v8h-8zM1229 2377h8v8h-8zM1229 2385h8v8h-8zM1170 2393h17v9h-17zM1095 2402h17v8h-17zM1195 2402h17v8h-17zM1087 2410h8v8h-8zM1145 2410h9v8h-9zM1195 2410h9v8h-9zM1087 2418h8v9h-8zM1120 2418h8v9h-8zM1145 2418h9v9h-9zM1195 2418h9v9h-9z" fill="#ed620d"/>
<path d="M1513 2184h8v9h-8zM1504 2193h9v8h-9zM1722 2226h8v9h-8zM1546 2402h9v8h-9z" fill="#f07210"/>
<path d="M1555 1750h8v8h-8zM1638 1750h17v8h-17zM1663 1750h8v8h-8zM1555 1758h8v9h-8zM1630 1767h8v8h-8zM1646 1767h9v8h-9zM1555 1775h8v8h-8zM1555 1783h8v9h-8zM1563 1800h8v8h-8zM1613 1800h8v8h-8zM1630 1800h8v8h-8zM1613 1808h8v9h-8zM1630 1808h16v9h-16zM1613 1817h17v8h-17zM1630 1825h16v9h-16zM1688 1825h9v9h-9zM1538 1834h8v8h-8zM1613 1834h8v8h-8zM1730 1834h8v8h-8zM1555 1842h16v8h-16zM1613 1842h17v8h-17zM1546 1850h9v9h-9zM1713 1875h9v9h-9zM1705 1884h17v8h-17zM1713 1892h9v8h-9zM1563 1900h8v9h-8zM1154 2218h8v8h-8zM1170 2226h9v9h-9zM1070 2235h17v8h-17zM1095 2235h17v8h-17zM1162 2235h8v8h-8zM1120 2243h8v8h-8zM1162 2243h8v8h-8zM1220 2243h9v8h-9zM1120 2293h25v8h-25zM1154 2293h16v8h-16zM1137 2301h8v9h-8zM1162 2301h8v9h-8zM1087 2310h8v8h-8zM1120 2310h17v8h-17zM1145 2310h9v8h-9zM1070 2318h8v8h-8zM1128 2318h9v8h-9zM1145 2318h9v8h-9zM1070 2326h8v9h-8zM1087 2326h8v9h-8zM1070 2343h8v8h-8zM1145 2368h9v9h-9zM1204 2385h8v8h-8zM1195 2393h25v9h-25zM1154 2410h8v8h-8z" fill="#f17611"/>
<path d="M1630 1750h8v8h-8zM1655 1750h8v8h-8zM1646 1758h9v9h-9zM1671 1758h17v9h-17zM1638 1767h8v8h-8zM1663 1767h17v8h-17zM1621 1775h9v8h-9zM1697 1775h8v8h-8zM1688 1783h9v9h-9zM1713 1783h9v9h-9zM1697 1792h8v8h-8zM1730 1800h8v8h-8zM1555 1808h8v9h-8zM1697 1808h8v9h-8zM1697 1825h8v9h-8zM1697 1834h8v8h-8zM1738 1834h9v8h-9zM1630 1842h16v8h-16zM1655 1842h8v8h-8zM1697 1842h8v8h-8zM1655 1850h8v9h-8zM1705 1850h8v9h-8zM1705 1859h8v8h-8zM1697 1884h8v8h-8zM1697 1917h16v8h-16zM1128 2235h9v8h-9zM1095 2301h8v9h-8zM1070 2310h8v8h-8zM1162 2310h8v8h-8zM1087 2318h8v8h-8zM1162 2318h8v8h-8zM1078 2326h9v9h-9zM1070 2335h8v8h-8zM1162 2335h17v8h-17zM1087 2343h8v8h-8zM1078 2351h17v9h-17zM1078 2360h9v8h-9zM1103 2368h9v9h-9zM1095 2377h8v8h-8zM1112 2377h8v8h-8zM1128 2377h9v8h-9zM1145 2377h25v8h-25zM1204 2377h8v8h-8zM1237 2377h8v8h-8zM1170 2385h17v8h-17zM1237 2385h8v8h-8zM1103 2393h9v9h-9zM1120 2410h8v8h-8zM1154 2418h8v9h-8z" fill="#f37e12"/>
<path d="M1170 1767h9v8h-9zM1187 1767h8v8h-8zM1220 1767h9v8h-9zM1145 1775h9v8h-9zM1145 1783h9v9h-9zM1179 1800h8v8h-8zM1095 1825h17v9h-17zM1179 1825h8v9h-8zM1195 1825h9v9h-9zM1087 1850h8v9h-8zM1120 1859h8v8h-8zM1145 1859h9v8h-9zM1195 1859h9v8h-9zM1087 1867h8v8h-8zM1237 1867h8v8h-8zM1145 1875h9v9h-9zM1179 1875h8v9h-8zM1229 1875h8v9h-8zM1212 1884h8v8h-8zM1229 1884h8v8h-8zM1204 1892h8v8h-8zM1237 1892h8v8h-8zM1087 1900h8v9h-8zM1195 1909h17v8h-17zM1187 1917h8v8h-8zM1212 1917h8v8h-8zM1546 2218h9v8h-9zM1538 2226h8v9h-8zM1705 2377h17v8h-17zM1697 2385h8v8h-8zM1697 2393h8v9h-8zM1738 2410h9v8h-9zM1730 2418h8v9h-8z" fill="#f58614"/>
<path d="M1613 1750h17v8h-17zM1621 1758h25v9h-25zM1655 1758h16v9h-16zM1613 1767h17v8h-17zM1655 1767h8v8h-8zM1722 1767h8v8h-8zM1688 1775h9v8h-9zM1705 1775h17v8h-17zM1563 1783h8v9h-8zM1697 1783h16v9h-16zM1555 1792h16v8h-16zM1705 1792h8v8h-8zM1722 1792h25v8h-25zM1705 1800h8v8h-8zM1722 1800h8v8h-8zM1563 1808h8v9h-8zM1705 1808h8v9h-8zM1722 1808h8v9h-8zM1563 1817h8v8h-8zM1705 1817h8v8h-8zM1722 1817h25v8h-25zM1705 1825h17v9h-17zM1630 1834h16v8h-16zM1713 1834h9v8h-9zM1713 1842h9v8h-9zM1655 1859h8v8h-8zM1713 1917h9v8h-9zM1112 2235h8v8h-8zM1103 2243h17v8h-17zM1128 2243h17v8h-17zM1070 2293h8v8h-8zM1087 2293h8v8h-8zM1070 2301h25v9h-25zM1078 2310h9v8h-9zM1154 2310h8v8h-8zM1078 2318h9v8h-9zM1154 2318h8v8h-8zM1078 2335h17v8h-17zM1179 2335h8v8h-8zM1078 2343h9v8h-9zM1095 2368h8v9h-8zM1103 2377h9v8h-9zM1095 2385h59v8h-59zM1095 2393h8v9h-8zM1145 2393h25v9h-25zM1237 2393h8v9h-8zM1087 2402h8v8h-8zM1112 2402h33v8h-33zM1112 2410h8v8h-8zM1137 2410h8v8h-8zM1112 2418h8v9h-8zM1137 2418h8v9h-8z" fill="#f69017"/>
<path d="M1722 1758h8v9h-8zM1730 1783h17v9h-17zM1688 1792h9v8h-9zM1713 1792h9v8h-9zM1697 1800h8v8h-8zM1730 1808h17v9h-17zM1697 1817h8v8h-8zM1688 1842h9v8h-9zM1722 1859h8v8h-8zM1688 1909h9v8h-9zM1296 1959h8v8h-8zM1296 1967h8v9h-8zM1279 1976h17v8h-17zM1722 2218h8v8h-8zM1730 2235h8v8h-8zM1680 2351h8v9h-8zM1671 2360h9v8h-9zM1112 2368h8v9h-8zM1162 2368h8v9h-8zM1229 2368h8v9h-8zM1120 2377h8v8h-8zM1137 2377h8v8h-8zM1112 2393h8v9h-8zM1078 2402h9v8h-9zM1179 2402h8v8h-8zM1538 2402h8v8h-8zM1103 2410h9v8h-9zM1128 2410h9v8h-9zM1555 2410h8v8h-8zM1103 2418h9v9h-9zM1128 2418h9v9h-9z" fill="#f79619"/>
<path d="M1563 1750h8v8h-8zM1688 1750h17v8h-17zM1713 1750h34v8h-34zM1563 1758h8v9h-8zM1613 1758h8v9h-8zM1730 1758h17v9h-17zM1095 1767h42v8h-42zM1145 1767h25v8h-25zM1179 1767h8v8h-8zM1195 1767h17v8h-17zM1229 1767h16v8h-16zM1697 1767h16v8h-16zM1087 1775h8v8h-8zM1154 1775h8v8h-8zM1170 1775h17v8h-17zM1195 1775h17v8h-17zM1229 1775h16v8h-16zM1563 1775h8v8h-8zM1730 1775h17v8h-17zM1087 1783h8v9h-8zM1154 1783h8v9h-8zM1170 1783h17v9h-17zM1195 1783h17v9h-17zM1229 1783h16v9h-16zM1087 1792h8v8h-8zM1170 1792h17v8h-17zM1212 1792h8v8h-8zM1087 1800h8v8h-8zM1170 1800h9v8h-9zM1187 1800h17v8h-17zM1212 1800h8v8h-8zM1688 1800h9v8h-9zM1713 1800h9v8h-9zM1087 1808h8v9h-8zM1145 1808h9v9h-9zM1688 1808h9v9h-9zM1713 1808h9v9h-9zM1145 1817h9v8h-9zM1713 1817h9v8h-9zM1087 1825h8v9h-8zM1128 1825h17v9h-17zM1170 1825h9v9h-9zM1204 1825h8v9h-8zM1229 1825h8v9h-8zM1087 1834h25v8h-25zM1187 1834h42v8h-42zM1688 1834h9v8h-9zM1705 1834h8v8h-8zM1087 1842h8v8h-8zM1204 1842h8v8h-8zM1538 1842h8v8h-8zM1705 1842h8v8h-8zM1095 1850h33v9h-33zM1145 1850h9v9h-9zM1187 1850h17v9h-17zM1087 1859h33v8h-33zM1187 1859h8v8h-8zM1730 1859h8v8h-8zM1120 1867h8v8h-8zM1154 1867h8v8h-8zM1170 1867h17v8h-17zM1220 1867h9v8h-9zM1555 1867h16v8h-16zM1730 1867h8v8h-8zM1087 1875h25v9h-25zM1120 1875h8v9h-8zM1154 1875h8v9h-8zM1170 1875h9v9h-9zM1237 1875h8v9h-8zM1087 1884h25v8h-25zM1145 1884h25v8h-25zM1237 1884h8v8h-8zM1112 1892h16v8h-16zM1154 1892h8v8h-8zM1154 1900h8v9h-8zM1187 1900h8v9h-8zM1087 1909h25v8h-25zM1145 1909h9v8h-9zM1713 1909h9v8h-9zM1087 1917h25v8h-25zM1195 1917h17v8h-17zM1688 1917h9v8h-9zM1162 2218h8v8h-8zM1187 2235h8v8h-8zM1070 2243h17v8h-17zM1095 2243h8v8h-8zM1187 2243h8v8h-8zM1078 2293h9v8h-9zM1070 2368h8v9h-8zM1120 2368h17v9h-17zM1154 2368h8v9h-8zM1237 2368h8v9h-8zM1070 2377h8v8h-8zM1087 2377h8v8h-8zM1087 2385h8v8h-8zM1154 2385h16v8h-16zM1070 2393h8v9h-8zM1120 2393h25v9h-25zM1229 2393h8v9h-8zM1070 2402h8v8h-8zM1070 2410h17v8h-17zM1095 2410h8v8h-8zM1179 2410h16v8h-16zM1070 2418h17v9h-17zM1095 2418h8v9h-8z" fill="#f9a61e"/>
<path d="M1730 1850h8v9h-8zM1688 1884h9v8h-9zM1688 1892h9v8h-9zM1204 2368h16v9h-16zM1170 2410h9v8h-9z" fill="#fab539"/>
<path d="M1705 1750h8v8h-8zM1713 1767h9v8h-9zM1103 1775h34v8h-34zM1095 1783h8v9h-8zM1112 1783h25v9h-25zM1212 1783h17v9h-17zM1095 1792h17v8h-17zM1145 1792h9v8h-9zM1162 1792h8v8h-8zM1187 1792h17v8h-17zM1095 1800h17v8h-17zM1145 1800h9v8h-9zM1162 1800h8v8h-8zM1204 1800h8v8h-8zM1095 1808h17v9h-17zM1154 1808h33v9h-33zM1195 1808h42v9h-42zM1154 1817h33v8h-33zM1195 1817h9v8h-9zM1688 1817h9v8h-9zM1112 1825h16v9h-16zM1162 1825h8v9h-8zM1237 1825h8v9h-8zM1722 1825h8v9h-8zM1128 1834h17v8h-17zM1162 1834h25v8h-25zM1229 1834h16v8h-16zM1722 1834h8v8h-8zM1112 1842h50v8h-50zM1195 1842h9v8h-9zM1212 1842h17v8h-17zM1722 1842h8v8h-8zM1128 1850h17v9h-17zM1154 1850h8v9h-8zM1538 1850h8v9h-8zM1722 1850h8v9h-8zM1128 1859h17v8h-17zM1154 1859h8v8h-8zM1538 1859h8v8h-8zM1112 1867h8v8h-8zM1112 1875h8v9h-8zM1128 1875h17v9h-17zM1162 1875h8v9h-8zM1120 1884h17v8h-17zM1103 1892h9v8h-9zM1128 1892h9v8h-9zM1162 1892h8v8h-8zM1103 1900h9v9h-9zM1128 1900h9v9h-9zM1162 1900h8v9h-8zM1237 1900h8v9h-8zM1128 1909h9v8h-9zM1154 1909h8v8h-8zM1145 1917h17v8h-17zM1220 1917h9v8h-9zM1170 2218h17v8h-17zM1137 2368h8v9h-8zM1070 2385h8v8h-8zM1087 2393h8v9h-8zM1145 2402h34v8h-34z" fill="#fac454"/>
<path d="M1713 1758h9v9h-9zM1688 1767h9v8h-9zM1730 1842h8v8h-8zM1738 2218h9v8h-9zM1087 2368h8v9h-8zM1078 2393h9v9h-9zM1162 2410h8v8h-8zM1538 2418h8v9h-8z" fill="#fad070"/>
<path d="M1120 1750h17v8h-17zM1145 1750h9v8h-9zM1179 1750h25v8h-25zM1128 1758h17v9h-17zM1154 1758h8v9h-8zM1187 1758h25v9h-25zM1688 1758h25v9h-25zM1137 1767h8v8h-8zM1212 1767h8v8h-8zM1137 1775h8v8h-8zM1162 1775h8v8h-8zM1187 1775h8v8h-8zM1212 1775h17v8h-17zM1137 1783h8v9h-8zM1162 1783h8v9h-8zM1187 1783h8v9h-8zM1128 1792h17v8h-17zM1154 1792h8v8h-8zM1204 1792h8v8h-8zM1220 1792h9v8h-9zM1070 1800h8v8h-8zM1128 1800h17v8h-17zM1154 1800h8v8h-8zM1070 1808h17v9h-17zM1112 1808h16v9h-16zM1137 1808h8v9h-8zM1187 1808h8v9h-8zM1237 1808h8v9h-8zM1078 1817h59v8h-59zM1187 1817h8v8h-8zM1204 1817h41v8h-41zM1070 1825h8v9h-8zM1154 1825h8v9h-8zM1078 1834h9v8h-9zM1112 1834h16v8h-16zM1145 1834h9v8h-9zM1095 1842h17v8h-17zM1187 1842h8v8h-8zM1229 1842h16v8h-16zM1738 1842h9v8h-9zM1738 1850h9v9h-9zM1070 1859h8v8h-8zM1738 1859h9v8h-9zM1070 1867h17v8h-17zM1095 1867h17v8h-17zM1128 1867h17v8h-17zM1162 1867h8v8h-8zM1738 1867h9v8h-9zM1070 1875h17v9h-17zM1078 1884h9v8h-9zM1112 1884h8v8h-8zM1137 1884h8v8h-8zM1087 1892h16v8h-16zM1137 1892h8v8h-8zM1095 1900h8v9h-8zM1112 1900h8v9h-8zM1137 1900h8v9h-8zM1229 1900h8v9h-8zM1137 1909h8v8h-8zM1162 1909h8v8h-8zM1220 1909h9v8h-9zM1128 1917h17v8h-17zM1162 1917h8v8h-8zM1078 2368h9v9h-9zM1078 2377h9v8h-9zM1078 2385h9v8h-9zM1162 2418h33v9h-33z" fill="#fbdd8c"/>
<path d="M1078 1750h42v8h-42zM1137 1750h8v8h-8zM1154 1750h25v8h-25zM1204 1750h41v8h-41zM1070 1758h8v9h-8zM1087 1758h41v9h-41zM1145 1758h9v9h-9zM1162 1758h25v9h-25zM1212 1758h33v9h-33zM1070 1767h17v8h-17zM1070 1775h17v8h-17zM1070 1783h17v9h-17zM1070 1792h17v8h-17zM1120 1792h8v8h-8zM1229 1792h16v8h-16zM1078 1800h9v8h-9zM1112 1800h8v8h-8zM1220 1800h25v8h-25zM1070 1817h8v8h-8zM1078 1825h9v9h-9zM1070 1834h8v8h-8zM1070 1842h17v8h-17zM1170 1842h17v8h-17zM1070 1850h17v9h-17zM1162 1850h8v9h-8zM1179 1850h8v9h-8zM1078 1859h9v8h-9zM1162 1859h17v8h-17zM1070 1884h8v8h-8zM1070 1892h17v8h-17zM1070 1900h17v9h-17zM1120 1900h8v9h-8zM1070 1909h17v8h-17zM1112 1909h16v8h-16zM1237 1909h8v8h-8zM1070 1917h17v8h-17zM1112 1917h16v8h-16zM1229 1917h8v8h-8z" fill="#fff2b4"/>
<path d="M1070 1750h8v8h-8zM1078 1758h9v9h-9zM1087 1767h8v8h-8zM1095 1775h8v8h-8zM1103 1783h9v9h-9zM1112 1792h8v8h-8zM1120 1800h8v8h-8zM1128 1808h9v9h-9zM1137 1817h8v8h-8zM1145 1825h9v9h-9zM1154 1834h8v8h-8zM1162 1842h8v8h-8zM1170 1850h9v9h-9zM1179 1859h8v8h-8zM1187 1867h8v8h-8zM1195 1875h9v9h-9zM1204 1884h8v8h-8zM1212 1892h8v8h-8zM1220 1900h9v9h-9zM1229 1909h8v8h-8zM1237 1917h8v8h-8zM1245 1925h17v9h-17zM1245 1934h17v8h-17zM1262 1942h17v8h-17zM1262 1950h17v9h-17zM1279 1959h8v8h-8zM1287 1967h9v9h-9zM1296 1976h8v8h-8zM1304 1984h8v8h-8zM1312 1992h9v9h-9zM1321 2001h8v8h-8zM1329 2009h8v8h-8zM1337 2017h9v9h-9zM1346 2026h8v8h-8zM1354 2034h8v8h-8zM1362 2042h9v9h-9zM1371 2051h8v8h-8zM1379 2059h8v8h-8zM1387 2067h9v9h-9zM1396 2076h8v8h-8zM1404 2084h9v9h-9zM1413 2093h8v8h-8zM1421 2101h8v8h-8zM1429 2109h9v9h-9zM1438 2118h8v8h-8zM1446 2126h8v8h-8zM1454 2134h9v9h-9zM1463 2143h8v8h-8zM1471 2151h8v8h-8zM1479 2159h9v9h-9zM1488 2168h8v8h-8zM1496 2176h8v8h-8zM1504 2184h9v9h-9zM1513 2193h8v8h-8zM1521 2201h8v8h-8zM1529 2209h9v9h-9zM1538 2218h8v8h-8zM1546 2226h9v9h-9zM1555 2235h8v8h-8zM1563 2243h8v8h-8zM1571 2251h9v9h-9zM1580 2260h8v8h-8zM1588 2268h8v8h-8zM1596 2276h9v9h-9zM1605 2285h8v8h-8zM1613 2293h8v8h-8zM1621 2301h9v9h-9zM1630 2310h8v8h-8zM1638 2318h8v8h-8zM1646 2326h9v9h-9zM1655 2335h8v8h-8zM1663 2343h8v8h-8zM1671 2351h9v9h-9zM1680 2360h8v8h-8zM1688 2368h9v9h-9zM1697 2377h8v8h-8zM1705 2385h8v8h-8zM1713 2393h9v9h-9zM1722 2402h8v8h-8zM1730 2410h8v8h-8zM1738 2418h9v9h-9z" fill="#fffffc"/>
</g>
</g>
</svg>
</body></html>
